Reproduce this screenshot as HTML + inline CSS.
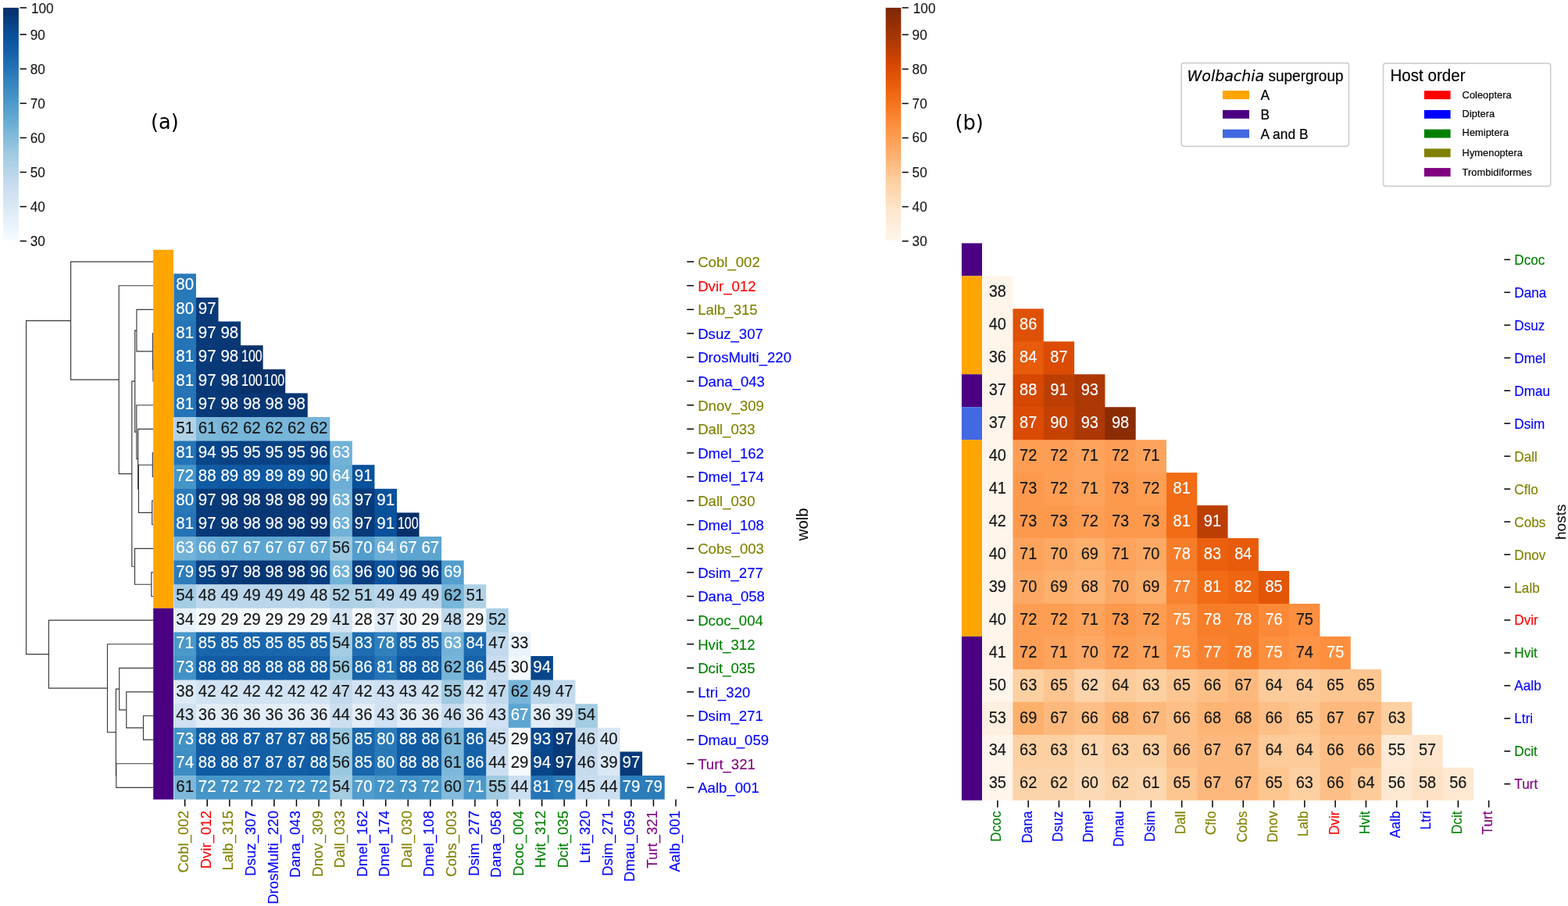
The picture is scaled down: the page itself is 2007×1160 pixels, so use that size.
<!DOCTYPE html>
<html lang="en">
<head>
<meta charset="utf-8">
<title>Wolbachia and host similarity heatmaps</title>
<style>
html,body{margin:0;padding:0;background:#fff;}
body{width:2007px;height:1160px;overflow:hidden;font-family:"Liberation Sans", sans-serif;}
svg{display:block;}
text{white-space:pre;}
</style>
</head>
<body>
<svg width="2007" height="1160" viewBox="0 0 2007 1160" role="img" aria-label="Clustered similarity heatmaps of Wolbachia strains and their hosts">
<rect x="0" y="0" width="2007" height="1160" fill="#ffffff"/>
<g id="gA">
<rect x="4.05" y="9.9" width="19.85" height="0.1" fill="#08306b"/>
<rect x="4.05" y="10" width="19.85" height="2" fill="#08306b"/>
<rect x="4.05" y="12" width="19.85" height="2" fill="#08326e"/>
<rect x="4.05" y="14" width="19.85" height="2" fill="#083471"/>
<rect x="4.05" y="16" width="19.85" height="2" fill="#083674"/>
<rect x="4.05" y="18" width="19.85" height="2" fill="#083776"/>
<rect x="4.05" y="20" width="19.85" height="2" fill="#083979"/>
<rect x="4.05" y="22" width="19.85" height="2" fill="#083b7c"/>
<rect x="4.05" y="24" width="19.85" height="2" fill="#083c7d"/>
<rect x="4.05" y="26" width="19.85" height="2" fill="#083e81"/>
<rect x="4.05" y="28" width="19.85" height="2" fill="#084184"/>
<rect x="4.05" y="30" width="19.85" height="2" fill="#084387"/>
<rect x="4.05" y="32" width="19.85" height="2" fill="#084488"/>
<rect x="4.05" y="34" width="19.85" height="2" fill="#08468b"/>
<rect x="4.05" y="36" width="19.85" height="2" fill="#08488e"/>
<rect x="4.05" y="38" width="19.85" height="2" fill="#084a91"/>
<rect x="4.05" y="40" width="19.85" height="2" fill="#084b93"/>
<rect x="4.05" y="42" width="19.85" height="2" fill="#084d96"/>
<rect x="4.05" y="44" width="19.85" height="2" fill="#084f99"/>
<rect x="4.05" y="46" width="19.85" height="2" fill="#08509b"/>
<rect x="4.05" y="48" width="19.85" height="2" fill="#09529d"/>
<rect x="4.05" y="50" width="19.85" height="2" fill="#0a549e"/>
<rect x="4.05" y="52" width="19.85" height="2" fill="#0c56a0"/>
<rect x="4.05" y="54" width="19.85" height="2" fill="#0d57a1"/>
<rect x="4.05" y="56" width="19.85" height="2" fill="#0e59a2"/>
<rect x="4.05" y="58" width="19.85" height="2" fill="#105ba4"/>
<rect x="4.05" y="60" width="19.85" height="2" fill="#115ca5"/>
<rect x="4.05" y="62" width="19.85" height="2" fill="#125ea6"/>
<rect x="4.05" y="64" width="19.85" height="2" fill="#1460a8"/>
<rect x="4.05" y="66" width="19.85" height="2" fill="#1562a9"/>
<rect x="4.05" y="68" width="19.85" height="2" fill="#1663aa"/>
<rect x="4.05" y="70" width="19.85" height="2" fill="#1865ac"/>
<rect x="4.05" y="72" width="19.85" height="2" fill="#1967ad"/>
<rect x="4.05" y="74" width="19.85" height="2" fill="#1a68ae"/>
<rect x="4.05" y="76" width="19.85" height="2" fill="#1c6ab0"/>
<rect x="4.05" y="78" width="19.85" height="2" fill="#1d6cb1"/>
<rect x="4.05" y="80" width="19.85" height="2" fill="#1f6eb3"/>
<rect x="4.05" y="82" width="19.85" height="2" fill="#206fb4"/>
<rect x="4.05" y="84" width="19.85" height="2" fill="#2171b5"/>
<rect x="4.05" y="86" width="19.85" height="2" fill="#2373b6"/>
<rect x="4.05" y="88" width="19.85" height="2" fill="#2474b7"/>
<rect x="4.05" y="90" width="19.85" height="2" fill="#2676b8"/>
<rect x="4.05" y="92" width="19.85" height="2" fill="#2979b9"/>
<rect x="4.05" y="94" width="19.85" height="2" fill="#2b7bba"/>
<rect x="4.05" y="96" width="19.85" height="2" fill="#2c7cba"/>
<rect x="4.05" y="98" width="19.85" height="2" fill="#2e7ebc"/>
<rect x="4.05" y="100" width="19.85" height="2" fill="#3080bd"/>
<rect x="4.05" y="102" width="19.85" height="2" fill="#3282be"/>
<rect x="4.05" y="104" width="19.85" height="2" fill="#3383be"/>
<rect x="4.05" y="106" width="19.85" height="2" fill="#3585bf"/>
<rect x="4.05" y="108" width="19.85" height="2" fill="#3787c0"/>
<rect x="4.05" y="110" width="19.85" height="2" fill="#3888c1"/>
<rect x="4.05" y="112" width="19.85" height="2" fill="#3a8ac2"/>
<rect x="4.05" y="114" width="19.85" height="2" fill="#3c8cc3"/>
<rect x="4.05" y="116" width="19.85" height="2" fill="#3e8ec4"/>
<rect x="4.05" y="118" width="19.85" height="2" fill="#3f8fc5"/>
<rect x="4.05" y="120" width="19.85" height="2" fill="#4191c6"/>
<rect x="4.05" y="122" width="19.85" height="2" fill="#4493c7"/>
<rect x="4.05" y="124" width="19.85" height="2" fill="#4594c7"/>
<rect x="4.05" y="126" width="19.85" height="2" fill="#4896c8"/>
<rect x="4.05" y="128" width="19.85" height="2" fill="#4a98c9"/>
<rect x="4.05" y="130" width="19.85" height="2" fill="#4d99ca"/>
<rect x="4.05" y="132" width="19.85" height="2" fill="#4e9acb"/>
<rect x="4.05" y="134" width="19.85" height="2" fill="#519ccc"/>
<rect x="4.05" y="136" width="19.85" height="2" fill="#539ecd"/>
<rect x="4.05" y="138" width="19.85" height="2" fill="#549fcd"/>
<rect x="4.05" y="140" width="19.85" height="2" fill="#57a0ce"/>
<rect x="4.05" y="142" width="19.85" height="2" fill="#5aa2cf"/>
<rect x="4.05" y="144" width="19.85" height="2" fill="#5ca4d0"/>
<rect x="4.05" y="146" width="19.85" height="2" fill="#5da5d1"/>
<rect x="4.05" y="148" width="19.85" height="2" fill="#60a7d2"/>
<rect x="4.05" y="150" width="19.85" height="2" fill="#63a8d3"/>
<rect x="4.05" y="152" width="19.85" height="2" fill="#65aad4"/>
<rect x="4.05" y="154" width="19.85" height="2" fill="#66abd4"/>
<rect x="4.05" y="156" width="19.85" height="2" fill="#69add5"/>
<rect x="4.05" y="158" width="19.85" height="2" fill="#6caed6"/>
<rect x="4.05" y="160" width="19.85" height="2" fill="#6dafd7"/>
<rect x="4.05" y="162" width="19.85" height="2" fill="#71b1d7"/>
<rect x="4.05" y="164" width="19.85" height="2" fill="#74b3d8"/>
<rect x="4.05" y="166" width="19.85" height="2" fill="#77b5d9"/>
<rect x="4.05" y="168" width="19.85" height="2" fill="#79b5d9"/>
<rect x="4.05" y="170" width="19.85" height="2" fill="#7cb7da"/>
<rect x="4.05" y="172" width="19.85" height="2" fill="#7fb9da"/>
<rect x="4.05" y="174" width="19.85" height="2" fill="#81badb"/>
<rect x="4.05" y="176" width="19.85" height="2" fill="#84bcdb"/>
<rect x="4.05" y="178" width="19.85" height="2" fill="#87bddc"/>
<rect x="4.05" y="180" width="19.85" height="2" fill="#8abfdd"/>
<rect x="4.05" y="182" width="19.85" height="2" fill="#8cc0dd"/>
<rect x="4.05" y="184" width="19.85" height="2" fill="#8fc2de"/>
<rect x="4.05" y="186" width="19.85" height="2" fill="#92c4de"/>
<rect x="4.05" y="188" width="19.85" height="2" fill="#94c4df"/>
<rect x="4.05" y="190" width="19.85" height="2" fill="#97c6df"/>
<rect x="4.05" y="192" width="19.85" height="2" fill="#9ac8e0"/>
<rect x="4.05" y="194" width="19.85" height="2" fill="#9dcae1"/>
<rect x="4.05" y="196" width="19.85" height="2" fill="#9fcae1"/>
<rect x="4.05" y="198" width="19.85" height="2" fill="#a1cbe2"/>
<rect x="4.05" y="200" width="19.85" height="2" fill="#a4cce3"/>
<rect x="4.05" y="202" width="19.85" height="2" fill="#a5cde3"/>
<rect x="4.05" y="204" width="19.85" height="2" fill="#a8cee4"/>
<rect x="4.05" y="206" width="19.85" height="2" fill="#aacfe5"/>
<rect x="4.05" y="208" width="19.85" height="2" fill="#add0e6"/>
<rect x="4.05" y="210" width="19.85" height="2" fill="#aed1e7"/>
<rect x="4.05" y="212" width="19.85" height="2" fill="#b0d2e7"/>
<rect x="4.05" y="214" width="19.85" height="2" fill="#b3d3e8"/>
<rect x="4.05" y="216" width="19.85" height="2" fill="#b5d4e9"/>
<rect x="4.05" y="218" width="19.85" height="2" fill="#b7d4ea"/>
<rect x="4.05" y="220" width="19.85" height="2" fill="#b9d6ea"/>
<rect x="4.05" y="222" width="19.85" height="2" fill="#bcd7eb"/>
<rect x="4.05" y="224" width="19.85" height="2" fill="#bdd7ec"/>
<rect x="4.05" y="226" width="19.85" height="2" fill="#bfd8ed"/>
<rect x="4.05" y="228" width="19.85" height="2" fill="#c2d9ee"/>
<rect x="4.05" y="230" width="19.85" height="2" fill="#c4daee"/>
<rect x="4.05" y="232" width="19.85" height="2" fill="#c6dbef"/>
<rect x="4.05" y="234" width="19.85" height="2" fill="#c7dcef"/>
<rect x="4.05" y="236" width="19.85" height="2" fill="#c9ddf0"/>
<rect x="4.05" y="238" width="19.85" height="2" fill="#caddf0"/>
<rect x="4.05" y="240" width="19.85" height="2" fill="#cbdef1"/>
<rect x="4.05" y="242" width="19.85" height="2" fill="#cddff1"/>
<rect x="4.05" y="244" width="19.85" height="2" fill="#cee0f2"/>
<rect x="4.05" y="246" width="19.85" height="2" fill="#cfe1f2"/>
<rect x="4.05" y="248" width="19.85" height="2" fill="#d0e2f2"/>
<rect x="4.05" y="250" width="19.85" height="2" fill="#d2e3f3"/>
<rect x="4.05" y="252" width="19.85" height="2" fill="#d3e3f3"/>
<rect x="4.05" y="254" width="19.85" height="2" fill="#d4e4f4"/>
<rect x="4.05" y="256" width="19.85" height="2" fill="#d6e5f4"/>
<rect x="4.05" y="258" width="19.85" height="2" fill="#d7e6f5"/>
<rect x="4.05" y="260" width="19.85" height="2" fill="#d8e7f5"/>
<rect x="4.05" y="262" width="19.85" height="2" fill="#d9e8f5"/>
<rect x="4.05" y="264" width="19.85" height="2" fill="#dbe9f6"/>
<rect x="4.05" y="266" width="19.85" height="2" fill="#dceaf6"/>
<rect x="4.05" y="268" width="19.85" height="2" fill="#ddeaf7"/>
<rect x="4.05" y="270" width="19.85" height="2" fill="#dfebf7"/>
<rect x="4.05" y="272" width="19.85" height="2" fill="#e0ecf8"/>
<rect x="4.05" y="274" width="19.85" height="2" fill="#e1edf8"/>
<rect x="4.05" y="276" width="19.85" height="2" fill="#e3eef8"/>
<rect x="4.05" y="278" width="19.85" height="2" fill="#e4eff9"/>
<rect x="4.05" y="280" width="19.85" height="2" fill="#e6f0f9"/>
<rect x="4.05" y="282" width="19.85" height="2" fill="#e7f0fa"/>
<rect x="4.05" y="284" width="19.85" height="2" fill="#e8f1fa"/>
<rect x="4.05" y="286" width="19.85" height="2" fill="#eaf2fb"/>
<rect x="4.05" y="288" width="19.85" height="2" fill="#eaf3fb"/>
<rect x="4.05" y="290" width="19.85" height="2" fill="#ecf4fb"/>
<rect x="4.05" y="292" width="19.85" height="2" fill="#eef5fc"/>
<rect x="4.05" y="294" width="19.85" height="2" fill="#eff6fc"/>
<rect x="4.05" y="296" width="19.85" height="2" fill="#f0f6fd"/>
<rect x="4.05" y="298" width="19.85" height="2" fill="#f2f7fd"/>
<rect x="4.05" y="300" width="19.85" height="2" fill="#f3f8fe"/>
<rect x="4.05" y="302" width="19.85" height="2" fill="#f4f9fe"/>
<rect x="4.05" y="304" width="19.85" height="2" fill="#f5fafe"/>
<rect x="4.05" y="306" width="19.85" height="1" fill="#f6faff"/>
<rect x="4.05" y="307" width="19.85" height="0.7" fill="#f7fbff"/>
</g>
<g stroke="#000" stroke-width="1.5">
<line x1="25.6" y1="9.9" x2="33.9" y2="9.9"/>
<line x1="25.6" y1="44.2" x2="33.9" y2="44.2"/>
<line x1="25.6" y1="88.27" x2="33.9" y2="88.27"/>
<line x1="25.6" y1="132.34" x2="33.9" y2="132.34"/>
<line x1="25.6" y1="176.41" x2="33.9" y2="176.41"/>
<line x1="25.6" y1="220.48" x2="33.9" y2="220.48"/>
<line x1="25.6" y1="264.55" x2="33.9" y2="264.55"/>
<line x1="25.6" y1="308.62" x2="33.9" y2="308.62"/>
</g>
<g font-family='"Liberation Sans", sans-serif' font-size="17.2" fill="#161616" stroke="#161616" stroke-width="0.12">
<text transform="translate(39.9 16.55) scale(1 1.04)">100</text>
<text transform="translate(38.7 50.85) scale(1 1.04)">90</text>
<text transform="translate(38.7 94.92) scale(1 1.04)">80</text>
<text transform="translate(38.7 138.99) scale(1 1.04)">70</text>
<text transform="translate(38.7 183.06) scale(1 1.04)">60</text>
<text transform="translate(38.7 227.13) scale(1 1.04)">50</text>
<text transform="translate(38.7 271.2) scale(1 1.04)">40</text>
<text transform="translate(38.7 315.27) scale(1 1.04)">30</text>
</g>
<g id="gB">
<rect x="1133.7" y="9.9" width="19.6" height="0.1" fill="#7f2704"/>
<rect x="1133.7" y="10" width="19.6" height="2" fill="#7f2704"/>
<rect x="1133.7" y="12" width="19.6" height="2" fill="#812804"/>
<rect x="1133.7" y="14" width="19.6" height="2" fill="#842904"/>
<rect x="1133.7" y="16" width="19.6" height="2" fill="#862a04"/>
<rect x="1133.7" y="18" width="19.6" height="2" fill="#882a04"/>
<rect x="1133.7" y="20" width="19.6" height="2" fill="#8a2b04"/>
<rect x="1133.7" y="22" width="19.6" height="2" fill="#8c2c04"/>
<rect x="1133.7" y="24" width="19.6" height="2" fill="#8e2d04"/>
<rect x="1133.7" y="26" width="19.6" height="2" fill="#902e04"/>
<rect x="1133.7" y="28" width="19.6" height="2" fill="#932f03"/>
<rect x="1133.7" y="30" width="19.6" height="2" fill="#952f03"/>
<rect x="1133.7" y="32" width="19.6" height="2" fill="#963003"/>
<rect x="1133.7" y="34" width="19.6" height="2" fill="#993103"/>
<rect x="1133.7" y="36" width="19.6" height="2" fill="#9b3203"/>
<rect x="1133.7" y="38" width="19.6" height="2" fill="#9e3303"/>
<rect x="1133.7" y="40" width="19.6" height="2" fill="#9f3303"/>
<rect x="1133.7" y="42" width="19.6" height="2" fill="#a13403"/>
<rect x="1133.7" y="44" width="19.6" height="2" fill="#a43503"/>
<rect x="1133.7" y="46" width="19.6" height="2" fill="#a53603"/>
<rect x="1133.7" y="48" width="19.6" height="2" fill="#a83703"/>
<rect x="1133.7" y="50" width="19.6" height="2" fill="#ab3803"/>
<rect x="1133.7" y="52" width="19.6" height="2" fill="#ae3903"/>
<rect x="1133.7" y="54" width="19.6" height="2" fill="#b03903"/>
<rect x="1133.7" y="56" width="19.6" height="2" fill="#b33b02"/>
<rect x="1133.7" y="58" width="19.6" height="2" fill="#b63c02"/>
<rect x="1133.7" y="60" width="19.6" height="2" fill="#b83c02"/>
<rect x="1133.7" y="62" width="19.6" height="2" fill="#bb3d02"/>
<rect x="1133.7" y="64" width="19.6" height="2" fill="#be3f02"/>
<rect x="1133.7" y="66" width="19.6" height="2" fill="#c14002"/>
<rect x="1133.7" y="68" width="19.6" height="2" fill="#c34002"/>
<rect x="1133.7" y="70" width="19.6" height="2" fill="#c64102"/>
<rect x="1133.7" y="72" width="19.6" height="2" fill="#c94202"/>
<rect x="1133.7" y="74" width="19.6" height="2" fill="#cb4302"/>
<rect x="1133.7" y="76" width="19.6" height="2" fill="#ce4401"/>
<rect x="1133.7" y="78" width="19.6" height="2" fill="#d14501"/>
<rect x="1133.7" y="80" width="19.6" height="2" fill="#d54601"/>
<rect x="1133.7" y="82" width="19.6" height="2" fill="#d64701"/>
<rect x="1133.7" y="84" width="19.6" height="2" fill="#d94801"/>
<rect x="1133.7" y="86" width="19.6" height="2" fill="#db4a02"/>
<rect x="1133.7" y="88" width="19.6" height="2" fill="#db4b03"/>
<rect x="1133.7" y="90" width="19.6" height="2" fill="#dd4d04"/>
<rect x="1133.7" y="92" width="19.6" height="2" fill="#de5005"/>
<rect x="1133.7" y="94" width="19.6" height="2" fill="#e05206"/>
<rect x="1133.7" y="96" width="19.6" height="2" fill="#e15307"/>
<rect x="1133.7" y="98" width="19.6" height="2" fill="#e25508"/>
<rect x="1133.7" y="100" width="19.6" height="2" fill="#e45709"/>
<rect x="1133.7" y="102" width="19.6" height="2" fill="#e5590a"/>
<rect x="1133.7" y="104" width="19.6" height="2" fill="#e65a0b"/>
<rect x="1133.7" y="106" width="19.6" height="2" fill="#e75c0c"/>
<rect x="1133.7" y="108" width="19.6" height="2" fill="#e95e0d"/>
<rect x="1133.7" y="110" width="19.6" height="2" fill="#ea5f0e"/>
<rect x="1133.7" y="112" width="19.6" height="2" fill="#eb610f"/>
<rect x="1133.7" y="114" width="19.6" height="2" fill="#ed6310"/>
<rect x="1133.7" y="116" width="19.6" height="2" fill="#ee6511"/>
<rect x="1133.7" y="118" width="19.6" height="2" fill="#ef6612"/>
<rect x="1133.7" y="120" width="19.6" height="2" fill="#f16813"/>
<rect x="1133.7" y="122" width="19.6" height="2" fill="#f26b15"/>
<rect x="1133.7" y="124" width="19.6" height="2" fill="#f26c16"/>
<rect x="1133.7" y="126" width="19.6" height="2" fill="#f36e19"/>
<rect x="1133.7" y="128" width="19.6" height="2" fill="#f3701b"/>
<rect x="1133.7" y="130" width="19.6" height="2" fill="#f4721e"/>
<rect x="1133.7" y="132" width="19.6" height="2" fill="#f5741f"/>
<rect x="1133.7" y="134" width="19.6" height="2" fill="#f57622"/>
<rect x="1133.7" y="136" width="19.6" height="2" fill="#f67824"/>
<rect x="1133.7" y="138" width="19.6" height="2" fill="#f67925"/>
<rect x="1133.7" y="140" width="19.6" height="2" fill="#f77b28"/>
<rect x="1133.7" y="142" width="19.6" height="2" fill="#f87e2b"/>
<rect x="1133.7" y="144" width="19.6" height="2" fill="#f9802d"/>
<rect x="1133.7" y="146" width="19.6" height="2" fill="#f9812e"/>
<rect x="1133.7" y="148" width="19.6" height="2" fill="#fa8331"/>
<rect x="1133.7" y="150" width="19.6" height="2" fill="#fb8634"/>
<rect x="1133.7" y="152" width="19.6" height="2" fill="#fb8836"/>
<rect x="1133.7" y="154" width="19.6" height="2" fill="#fc8937"/>
<rect x="1133.7" y="156" width="19.6" height="2" fill="#fc8b3a"/>
<rect x="1133.7" y="158" width="19.6" height="2" fill="#fd8e3d"/>
<rect x="1133.7" y="160" width="19.6" height="2" fill="#fd8f3e"/>
<rect x="1133.7" y="162" width="19.6" height="2" fill="#fd9141"/>
<rect x="1133.7" y="164" width="19.6" height="2" fill="#fd9344"/>
<rect x="1133.7" y="166" width="19.6" height="2" fill="#fd9547"/>
<rect x="1133.7" y="168" width="19.6" height="2" fill="#fd9649"/>
<rect x="1133.7" y="170" width="19.6" height="2" fill="#fd984b"/>
<rect x="1133.7" y="172" width="19.6" height="2" fill="#fd9a4e"/>
<rect x="1133.7" y="174" width="19.6" height="2" fill="#fd9b50"/>
<rect x="1133.7" y="176" width="19.6" height="2" fill="#fd9d53"/>
<rect x="1133.7" y="178" width="19.6" height="2" fill="#fd9f56"/>
<rect x="1133.7" y="180" width="19.6" height="2" fill="#fda159"/>
<rect x="1133.7" y="182" width="19.6" height="2" fill="#fda25a"/>
<rect x="1133.7" y="184" width="19.6" height="2" fill="#fda45d"/>
<rect x="1133.7" y="186" width="19.6" height="2" fill="#fda660"/>
<rect x="1133.7" y="188" width="19.6" height="2" fill="#fda762"/>
<rect x="1133.7" y="190" width="19.6" height="2" fill="#fda965"/>
<rect x="1133.7" y="192" width="19.6" height="2" fill="#fdac67"/>
<rect x="1133.7" y="194" width="19.6" height="2" fill="#fdae6a"/>
<rect x="1133.7" y="196" width="19.6" height="2" fill="#fdaf6c"/>
<rect x="1133.7" y="198" width="19.6" height="2" fill="#fdb170"/>
<rect x="1133.7" y="200" width="19.6" height="2" fill="#fdb373"/>
<rect x="1133.7" y="202" width="19.6" height="2" fill="#fdb475"/>
<rect x="1133.7" y="204" width="19.6" height="2" fill="#fdb678"/>
<rect x="1133.7" y="206" width="19.6" height="2" fill="#fdb87c"/>
<rect x="1133.7" y="208" width="19.6" height="2" fill="#fdba7f"/>
<rect x="1133.7" y="210" width="19.6" height="2" fill="#fdbb81"/>
<rect x="1133.7" y="212" width="19.6" height="2" fill="#fdbe84"/>
<rect x="1133.7" y="214" width="19.6" height="2" fill="#fdc088"/>
<rect x="1133.7" y="216" width="19.6" height="2" fill="#fdc28b"/>
<rect x="1133.7" y="218" width="19.6" height="2" fill="#fdc38d"/>
<rect x="1133.7" y="220" width="19.6" height="2" fill="#fdc590"/>
<rect x="1133.7" y="222" width="19.6" height="2" fill="#fdc794"/>
<rect x="1133.7" y="224" width="19.6" height="2" fill="#fdc895"/>
<rect x="1133.7" y="226" width="19.6" height="2" fill="#fdca99"/>
<rect x="1133.7" y="228" width="19.6" height="2" fill="#fdcd9c"/>
<rect x="1133.7" y="230" width="19.6" height="2" fill="#fdcfa0"/>
<rect x="1133.7" y="232" width="19.6" height="2" fill="#fdd0a2"/>
<rect x="1133.7" y="234" width="19.6" height="2" fill="#fdd1a4"/>
<rect x="1133.7" y="236" width="19.6" height="2" fill="#fdd3a7"/>
<rect x="1133.7" y="238" width="19.6" height="2" fill="#fdd3a9"/>
<rect x="1133.7" y="240" width="19.6" height="2" fill="#fdd5ab"/>
<rect x="1133.7" y="242" width="19.6" height="2" fill="#fdd6ae"/>
<rect x="1133.7" y="244" width="19.6" height="2" fill="#fdd7b1"/>
<rect x="1133.7" y="246" width="19.6" height="2" fill="#fdd8b2"/>
<rect x="1133.7" y="248" width="19.6" height="2" fill="#fdd9b5"/>
<rect x="1133.7" y="250" width="19.6" height="2" fill="#fddbb8"/>
<rect x="1133.7" y="252" width="19.6" height="2" fill="#fedcb9"/>
<rect x="1133.7" y="254" width="19.6" height="2" fill="#feddbc"/>
<rect x="1133.7" y="256" width="19.6" height="2" fill="#fedebf"/>
<rect x="1133.7" y="258" width="19.6" height="2" fill="#fee0c1"/>
<rect x="1133.7" y="260" width="19.6" height="2" fill="#fee0c3"/>
<rect x="1133.7" y="262" width="19.6" height="2" fill="#fee2c6"/>
<rect x="1133.7" y="264" width="19.6" height="2" fill="#fee3c8"/>
<rect x="1133.7" y="266" width="19.6" height="2" fill="#fee5cb"/>
<rect x="1133.7" y="268" width="19.6" height="2" fill="#fee5cc"/>
<rect x="1133.7" y="270" width="19.6" height="2" fill="#fee6cf"/>
<rect x="1133.7" y="272" width="19.6" height="2" fill="#fee7d1"/>
<rect x="1133.7" y="274" width="19.6" height="2" fill="#fee8d2"/>
<rect x="1133.7" y="276" width="19.6" height="2" fill="#fee9d3"/>
<rect x="1133.7" y="278" width="19.6" height="2" fill="#feead5"/>
<rect x="1133.7" y="280" width="19.6" height="2" fill="#feebd7"/>
<rect x="1133.7" y="282" width="19.6" height="2" fill="#feebd8"/>
<rect x="1133.7" y="284" width="19.6" height="2" fill="#feecda"/>
<rect x="1133.7" y="286" width="19.6" height="2" fill="#feeddc"/>
<rect x="1133.7" y="288" width="19.6" height="2" fill="#feeddc"/>
<rect x="1133.7" y="290" width="19.6" height="2" fill="#ffeede"/>
<rect x="1133.7" y="292" width="19.6" height="2" fill="#ffefe0"/>
<rect x="1133.7" y="294" width="19.6" height="2" fill="#fff0e2"/>
<rect x="1133.7" y="296" width="19.6" height="2" fill="#fff1e3"/>
<rect x="1133.7" y="298" width="19.6" height="2" fill="#fff2e5"/>
<rect x="1133.7" y="300" width="19.6" height="2" fill="#fff3e6"/>
<rect x="1133.7" y="302" width="19.6" height="2" fill="#fff3e7"/>
<rect x="1133.7" y="304" width="19.6" height="2" fill="#fff4e9"/>
<rect x="1133.7" y="306" width="19.6" height="1" fill="#fff5ea"/>
<rect x="1133.7" y="307" width="19.6" height="0.7" fill="#fff5eb"/>
</g>
<g stroke="#000" stroke-width="1.5">
<line x1="1154.7" y1="9.9" x2="1162.8" y2="9.9"/>
<line x1="1154.7" y1="44.4" x2="1162.8" y2="44.4"/>
<line x1="1154.7" y1="88.45" x2="1162.8" y2="88.45"/>
<line x1="1154.7" y1="132.5" x2="1162.8" y2="132.5"/>
<line x1="1154.7" y1="176.55" x2="1162.8" y2="176.55"/>
<line x1="1154.7" y1="220.6" x2="1162.8" y2="220.6"/>
<line x1="1154.7" y1="264.65" x2="1162.8" y2="264.65"/>
<line x1="1154.7" y1="308.7" x2="1162.8" y2="308.7"/>
</g>
<g font-family='"Liberation Sans", sans-serif' font-size="17.2" fill="#161616" stroke="#161616" stroke-width="0.12">
<text transform="translate(1168.8 16.55) scale(1 1.04)">100</text>
<text transform="translate(1167.6 50.85) scale(1 1.04)">90</text>
<text transform="translate(1167.6 94.9) scale(1 1.04)">80</text>
<text transform="translate(1167.6 139.15) scale(1 1.04)">70</text>
<text transform="translate(1167.6 181.6) scale(1 1.04)">60</text>
<text transform="translate(1167.6 227.25) scale(1 1.04)">50</text>
<text transform="translate(1167.6 271.3) scale(1 1.04)">40</text>
<text transform="translate(1167.6 315.35) scale(1 1.04)">30</text>
</g>
<text x="210.8" y="164.7" font-size="25.7" fill="#000" text-anchor="middle" font-family='"DejaVu Sans", sans-serif'>(a)</text>
<text x="1240.7" y="166.4" font-size="25.7" fill="#000" text-anchor="middle" font-family='"DejaVu Sans", sans-serif'>(b)</text>
<path d="M196.2 457.5H196V488.1H196.2M196.2 426.9H195.5V472.8H196M196.2 396.3H174.9V449.85H195.5M196.2 579.9H195.3V610.5H196.2M196.2 641.1H194.7V671.7H196.2M195.3 595.2H177.4V656.4H194.7M196.2 549.3H176.6V625.8H177.4M196.2 518.7H174.8V587.55H176.6M174.9 423.08H172.7V553.12H174.8M196.2 732.9H193.8V763.5H196.2M196.2 702.3H172.5V748.2H193.8M172.7 488.1H168.8V725.25H172.5M196.2 365.7H152.2V606.67H168.8M196.2 335.1H90.6V486.19H152.2M196.2 916.5H183.5V947.1H196.2M196.2 885.9H161.8V931.8H183.5M196.2 855.3H152.7V908.85H161.8M196.2 977.7H148.8V1008.3H196.2M152.7 882.08H148.4V993H148.8M196.2 824.7H137.5V937.54H148.4M196.2 794.1H62.4V881.12H137.5M90.6 410.64H33.5V837.61H62.4" fill="none" stroke="#3a3a3a" stroke-width="1.15" stroke-linejoin="miter"/>
<rect x="196.2" y="319.8" width="25.8" height="459" fill="#ffa500"/>
<rect x="196.2" y="778.8" width="25.8" height="244.8" fill="#4b0082"/>
<g>
<rect x="222.4" y="350.4" width="28.56" height="31.3" fill="#2979b9"/>
<rect x="222.4" y="381" width="29.26" height="31.3" fill="#2979b9"/>
<rect x="250.96" y="381" width="28.56" height="31.3" fill="#083a7a"/>
<rect x="222.4" y="411.6" width="29.26" height="31.3" fill="#2474b7"/>
<rect x="250.96" y="411.6" width="29.26" height="31.3" fill="#083a7a"/>
<rect x="279.52" y="411.6" width="28.56" height="31.3" fill="#083776"/>
<rect x="222.4" y="442.2" width="29.26" height="31.3" fill="#2474b7"/>
<rect x="250.96" y="442.2" width="29.26" height="31.3" fill="#083a7a"/>
<rect x="279.52" y="442.2" width="29.26" height="31.3" fill="#083776"/>
<rect x="308.08" y="442.2" width="28.56" height="31.3" fill="#08306b"/>
<rect x="222.4" y="472.8" width="29.26" height="31.3" fill="#2474b7"/>
<rect x="250.96" y="472.8" width="29.26" height="31.3" fill="#083a7a"/>
<rect x="279.52" y="472.8" width="29.26" height="31.3" fill="#083776"/>
<rect x="308.08" y="472.8" width="29.26" height="31.3" fill="#08306b"/>
<rect x="336.64" y="472.8" width="28.56" height="31.3" fill="#08306b"/>
<rect x="222.4" y="503.4" width="29.26" height="31.3" fill="#2474b7"/>
<rect x="250.96" y="503.4" width="29.26" height="31.3" fill="#083a7a"/>
<rect x="279.52" y="503.4" width="29.26" height="31.3" fill="#083776"/>
<rect x="308.08" y="503.4" width="29.26" height="31.3" fill="#083776"/>
<rect x="336.64" y="503.4" width="29.26" height="31.3" fill="#083776"/>
<rect x="365.2" y="503.4" width="28.56" height="31.3" fill="#083776"/>
<rect x="222.4" y="534" width="29.26" height="31.3" fill="#b0d2e7"/>
<rect x="250.96" y="534" width="29.26" height="31.3" fill="#7db8da"/>
<rect x="279.52" y="534" width="29.26" height="31.3" fill="#77b5d9"/>
<rect x="308.08" y="534" width="29.26" height="31.3" fill="#77b5d9"/>
<rect x="336.64" y="534" width="29.26" height="31.3" fill="#77b5d9"/>
<rect x="365.2" y="534" width="29.26" height="31.3" fill="#77b5d9"/>
<rect x="393.76" y="534" width="28.56" height="31.3" fill="#77b5d9"/>
<rect x="222.4" y="564.6" width="29.26" height="31.3" fill="#2474b7"/>
<rect x="250.96" y="564.6" width="29.26" height="31.3" fill="#08468b"/>
<rect x="279.52" y="564.6" width="29.26" height="31.3" fill="#084285"/>
<rect x="308.08" y="564.6" width="29.26" height="31.3" fill="#084285"/>
<rect x="336.64" y="564.6" width="29.26" height="31.3" fill="#084285"/>
<rect x="365.2" y="564.6" width="29.26" height="31.3" fill="#084285"/>
<rect x="393.76" y="564.6" width="29.26" height="31.3" fill="#083e81"/>
<rect x="422.32" y="564.6" width="28.56" height="31.3" fill="#72b2d8"/>
<rect x="222.4" y="595.2" width="29.26" height="31.3" fill="#4695c8"/>
<rect x="250.96" y="595.2" width="29.26" height="31.3" fill="#105ba4"/>
<rect x="279.52" y="595.2" width="29.26" height="31.3" fill="#0e58a2"/>
<rect x="308.08" y="595.2" width="29.26" height="31.3" fill="#0e58a2"/>
<rect x="336.64" y="595.2" width="29.26" height="31.3" fill="#0e58a2"/>
<rect x="365.2" y="595.2" width="29.26" height="31.3" fill="#0e58a2"/>
<rect x="393.76" y="595.2" width="29.26" height="31.3" fill="#0a549e"/>
<rect x="422.32" y="595.2" width="29.26" height="31.3" fill="#6caed6"/>
<rect x="450.88" y="595.2" width="28.56" height="31.3" fill="#08519c"/>
<rect x="222.4" y="625.8" width="29.26" height="31.3" fill="#2979b9"/>
<rect x="250.96" y="625.8" width="29.26" height="31.3" fill="#083a7a"/>
<rect x="279.52" y="625.8" width="29.26" height="31.3" fill="#083776"/>
<rect x="308.08" y="625.8" width="29.26" height="31.3" fill="#083776"/>
<rect x="336.64" y="625.8" width="29.26" height="31.3" fill="#083776"/>
<rect x="365.2" y="625.8" width="29.26" height="31.3" fill="#083776"/>
<rect x="393.76" y="625.8" width="29.26" height="31.3" fill="#083370"/>
<rect x="422.32" y="625.8" width="29.26" height="31.3" fill="#72b2d8"/>
<rect x="450.88" y="625.8" width="29.26" height="31.3" fill="#083a7a"/>
<rect x="479.44" y="625.8" width="28.56" height="31.3" fill="#08519c"/>
<rect x="222.4" y="656.4" width="29.26" height="31.3" fill="#2474b7"/>
<rect x="250.96" y="656.4" width="29.26" height="31.3" fill="#083a7a"/>
<rect x="279.52" y="656.4" width="29.26" height="31.3" fill="#083776"/>
<rect x="308.08" y="656.4" width="29.26" height="31.3" fill="#083776"/>
<rect x="336.64" y="656.4" width="29.26" height="31.3" fill="#083776"/>
<rect x="365.2" y="656.4" width="29.26" height="31.3" fill="#083776"/>
<rect x="393.76" y="656.4" width="29.26" height="31.3" fill="#083370"/>
<rect x="422.32" y="656.4" width="29.26" height="31.3" fill="#72b2d8"/>
<rect x="450.88" y="656.4" width="29.26" height="31.3" fill="#083a7a"/>
<rect x="479.44" y="656.4" width="29.26" height="31.3" fill="#08519c"/>
<rect x="508" y="656.4" width="28.56" height="31.3" fill="#08306b"/>
<rect x="222.4" y="687" width="29.26" height="31.3" fill="#72b2d8"/>
<rect x="250.96" y="687" width="29.26" height="31.3" fill="#63a8d3"/>
<rect x="279.52" y="687" width="29.26" height="31.3" fill="#5da5d1"/>
<rect x="308.08" y="687" width="29.26" height="31.3" fill="#5da5d1"/>
<rect x="336.64" y="687" width="29.26" height="31.3" fill="#5da5d1"/>
<rect x="365.2" y="687" width="29.26" height="31.3" fill="#5da5d1"/>
<rect x="393.76" y="687" width="29.26" height="31.3" fill="#5da5d1"/>
<rect x="422.32" y="687" width="29.26" height="31.3" fill="#9ac8e0"/>
<rect x="450.88" y="687" width="29.26" height="31.3" fill="#519ccc"/>
<rect x="479.44" y="687" width="29.26" height="31.3" fill="#6caed6"/>
<rect x="508" y="687" width="29.26" height="31.3" fill="#5da5d1"/>
<rect x="536.56" y="687" width="28.56" height="31.3" fill="#5da5d1"/>
<rect x="222.4" y="717.6" width="29.26" height="31.3" fill="#2c7cba"/>
<rect x="250.96" y="717.6" width="29.26" height="31.3" fill="#084285"/>
<rect x="279.52" y="717.6" width="29.26" height="31.3" fill="#083a7a"/>
<rect x="308.08" y="717.6" width="29.26" height="31.3" fill="#083776"/>
<rect x="336.64" y="717.6" width="29.26" height="31.3" fill="#083776"/>
<rect x="365.2" y="717.6" width="29.26" height="31.3" fill="#083776"/>
<rect x="393.76" y="717.6" width="29.26" height="31.3" fill="#083e81"/>
<rect x="422.32" y="717.6" width="29.26" height="31.3" fill="#72b2d8"/>
<rect x="450.88" y="717.6" width="29.26" height="31.3" fill="#083e81"/>
<rect x="479.44" y="717.6" width="29.26" height="31.3" fill="#0a549e"/>
<rect x="508" y="717.6" width="29.26" height="31.3" fill="#083e81"/>
<rect x="536.56" y="717.6" width="29.26" height="31.3" fill="#083e81"/>
<rect x="565.12" y="717.6" width="28.56" height="31.3" fill="#549fcd"/>
<rect x="222.4" y="748.2" width="29.26" height="31.3" fill="#a4cce3"/>
<rect x="250.96" y="748.2" width="29.26" height="31.3" fill="#bed8ec"/>
<rect x="279.52" y="748.2" width="29.26" height="31.3" fill="#bad6eb"/>
<rect x="308.08" y="748.2" width="29.26" height="31.3" fill="#bad6eb"/>
<rect x="336.64" y="748.2" width="29.26" height="31.3" fill="#bad6eb"/>
<rect x="365.2" y="748.2" width="29.26" height="31.3" fill="#bad6eb"/>
<rect x="393.76" y="748.2" width="29.26" height="31.3" fill="#bed8ec"/>
<rect x="422.32" y="748.2" width="29.26" height="31.3" fill="#add0e6"/>
<rect x="450.88" y="748.2" width="29.26" height="31.3" fill="#b0d2e7"/>
<rect x="479.44" y="748.2" width="29.26" height="31.3" fill="#bad6eb"/>
<rect x="508" y="748.2" width="29.26" height="31.3" fill="#bad6eb"/>
<rect x="536.56" y="748.2" width="29.26" height="31.3" fill="#bad6eb"/>
<rect x="565.12" y="748.2" width="29.26" height="31.3" fill="#77b5d9"/>
<rect x="593.68" y="748.2" width="28.56" height="31.3" fill="#b0d2e7"/>
<rect x="222.4" y="778.8" width="29.26" height="31.3" fill="#e7f1fa"/>
<rect x="250.96" y="778.8" width="29.26" height="31.3" fill="#f5fafe"/>
<rect x="279.52" y="778.8" width="29.26" height="31.3" fill="#f5fafe"/>
<rect x="308.08" y="778.8" width="29.26" height="31.3" fill="#f5fafe"/>
<rect x="336.64" y="778.8" width="29.26" height="31.3" fill="#f5fafe"/>
<rect x="365.2" y="778.8" width="29.26" height="31.3" fill="#f5fafe"/>
<rect x="393.76" y="778.8" width="29.26" height="31.3" fill="#f5fafe"/>
<rect x="422.32" y="778.8" width="29.26" height="31.3" fill="#d4e4f4"/>
<rect x="450.88" y="778.8" width="29.26" height="31.3" fill="#f7fbff"/>
<rect x="479.44" y="778.8" width="29.26" height="31.3" fill="#dfebf7"/>
<rect x="508" y="778.8" width="29.26" height="31.3" fill="#f2f8fd"/>
<rect x="536.56" y="778.8" width="29.26" height="31.3" fill="#f5fafe"/>
<rect x="565.12" y="778.8" width="29.26" height="31.3" fill="#bed8ec"/>
<rect x="593.68" y="778.8" width="29.26" height="31.3" fill="#f5fafe"/>
<rect x="622.24" y="778.8" width="28.56" height="31.3" fill="#add0e6"/>
<rect x="222.4" y="809.4" width="29.26" height="31.3" fill="#4b98ca"/>
<rect x="250.96" y="809.4" width="29.26" height="31.3" fill="#1966ad"/>
<rect x="279.52" y="809.4" width="29.26" height="31.3" fill="#1966ad"/>
<rect x="308.08" y="809.4" width="29.26" height="31.3" fill="#1966ad"/>
<rect x="336.64" y="809.4" width="29.26" height="31.3" fill="#1966ad"/>
<rect x="365.2" y="809.4" width="29.26" height="31.3" fill="#1966ad"/>
<rect x="393.76" y="809.4" width="29.26" height="31.3" fill="#1966ad"/>
<rect x="422.32" y="809.4" width="29.26" height="31.3" fill="#a4cce3"/>
<rect x="450.88" y="809.4" width="29.26" height="31.3" fill="#1e6db2"/>
<rect x="479.44" y="809.4" width="29.26" height="31.3" fill="#3080bd"/>
<rect x="508" y="809.4" width="29.26" height="31.3" fill="#1966ad"/>
<rect x="536.56" y="809.4" width="29.26" height="31.3" fill="#1966ad"/>
<rect x="565.12" y="809.4" width="29.26" height="31.3" fill="#72b2d8"/>
<rect x="593.68" y="809.4" width="29.26" height="31.3" fill="#1c6ab0"/>
<rect x="622.24" y="809.4" width="29.26" height="31.3" fill="#c3daee"/>
<rect x="650.8" y="809.4" width="28.56" height="31.3" fill="#eaf3fb"/>
<rect x="222.4" y="840" width="29.26" height="31.3" fill="#4292c6"/>
<rect x="250.96" y="840" width="29.26" height="31.3" fill="#105ba4"/>
<rect x="279.52" y="840" width="29.26" height="31.3" fill="#105ba4"/>
<rect x="308.08" y="840" width="29.26" height="31.3" fill="#105ba4"/>
<rect x="336.64" y="840" width="29.26" height="31.3" fill="#105ba4"/>
<rect x="365.2" y="840" width="29.26" height="31.3" fill="#105ba4"/>
<rect x="393.76" y="840" width="29.26" height="31.3" fill="#105ba4"/>
<rect x="422.32" y="840" width="29.26" height="31.3" fill="#9ac8e0"/>
<rect x="450.88" y="840" width="29.26" height="31.3" fill="#1562a9"/>
<rect x="479.44" y="840" width="29.26" height="31.3" fill="#2474b7"/>
<rect x="508" y="840" width="29.26" height="31.3" fill="#105ba4"/>
<rect x="536.56" y="840" width="29.26" height="31.3" fill="#105ba4"/>
<rect x="565.12" y="840" width="29.26" height="31.3" fill="#77b5d9"/>
<rect x="593.68" y="840" width="29.26" height="31.3" fill="#1562a9"/>
<rect x="622.24" y="840" width="29.26" height="31.3" fill="#caddf0"/>
<rect x="650.8" y="840" width="29.26" height="31.3" fill="#f2f8fd"/>
<rect x="679.36" y="840" width="28.56" height="31.3" fill="#08468b"/>
<rect x="222.4" y="870.6" width="29.26" height="31.3" fill="#dceaf6"/>
<rect x="250.96" y="870.6" width="29.26" height="31.3" fill="#d2e3f3"/>
<rect x="279.52" y="870.6" width="29.26" height="31.3" fill="#d2e3f3"/>
<rect x="308.08" y="870.6" width="29.26" height="31.3" fill="#d2e3f3"/>
<rect x="336.64" y="870.6" width="29.26" height="31.3" fill="#d2e3f3"/>
<rect x="365.2" y="870.6" width="29.26" height="31.3" fill="#d2e3f3"/>
<rect x="393.76" y="870.6" width="29.26" height="31.3" fill="#d2e3f3"/>
<rect x="422.32" y="870.6" width="29.26" height="31.3" fill="#c3daee"/>
<rect x="450.88" y="870.6" width="29.26" height="31.3" fill="#d2e3f3"/>
<rect x="479.44" y="870.6" width="29.26" height="31.3" fill="#cfe1f2"/>
<rect x="508" y="870.6" width="29.26" height="31.3" fill="#cfe1f2"/>
<rect x="536.56" y="870.6" width="29.26" height="31.3" fill="#d2e3f3"/>
<rect x="565.12" y="870.6" width="29.26" height="31.3" fill="#9fcae1"/>
<rect x="593.68" y="870.6" width="29.26" height="31.3" fill="#d2e3f3"/>
<rect x="622.24" y="870.6" width="29.26" height="31.3" fill="#c3daee"/>
<rect x="650.8" y="870.6" width="29.26" height="31.3" fill="#77b5d9"/>
<rect x="679.36" y="870.6" width="29.26" height="31.3" fill="#bad6eb"/>
<rect x="707.92" y="870.6" width="28.56" height="31.3" fill="#c3daee"/>
<rect x="222.4" y="901.2" width="29.26" height="31.3" fill="#cfe1f2"/>
<rect x="250.96" y="901.2" width="29.26" height="31.3" fill="#e2edf8"/>
<rect x="279.52" y="901.2" width="29.26" height="31.3" fill="#e2edf8"/>
<rect x="308.08" y="901.2" width="29.26" height="31.3" fill="#e2edf8"/>
<rect x="336.64" y="901.2" width="29.26" height="31.3" fill="#e2edf8"/>
<rect x="365.2" y="901.2" width="29.26" height="31.3" fill="#e2edf8"/>
<rect x="393.76" y="901.2" width="29.26" height="31.3" fill="#e2edf8"/>
<rect x="422.32" y="901.2" width="29.26" height="31.3" fill="#ccdff1"/>
<rect x="450.88" y="901.2" width="29.26" height="31.3" fill="#e2edf8"/>
<rect x="479.44" y="901.2" width="29.26" height="31.3" fill="#cfe1f2"/>
<rect x="508" y="901.2" width="29.26" height="31.3" fill="#e2edf8"/>
<rect x="536.56" y="901.2" width="29.26" height="31.3" fill="#e2edf8"/>
<rect x="565.12" y="901.2" width="29.26" height="31.3" fill="#c7dbef"/>
<rect x="593.68" y="901.2" width="29.26" height="31.3" fill="#e2edf8"/>
<rect x="622.24" y="901.2" width="29.26" height="31.3" fill="#cfe1f2"/>
<rect x="650.8" y="901.2" width="29.26" height="31.3" fill="#5da5d1"/>
<rect x="679.36" y="901.2" width="29.26" height="31.3" fill="#e2edf8"/>
<rect x="707.92" y="901.2" width="29.26" height="31.3" fill="#d9e8f5"/>
<rect x="736.48" y="901.2" width="28.56" height="31.3" fill="#a4cce3"/>
<rect x="222.4" y="931.8" width="29.26" height="31.3" fill="#4292c6"/>
<rect x="250.96" y="931.8" width="29.26" height="31.3" fill="#105ba4"/>
<rect x="279.52" y="931.8" width="29.26" height="31.3" fill="#105ba4"/>
<rect x="308.08" y="931.8" width="29.26" height="31.3" fill="#135fa7"/>
<rect x="336.64" y="931.8" width="29.26" height="31.3" fill="#135fa7"/>
<rect x="365.2" y="931.8" width="29.26" height="31.3" fill="#135fa7"/>
<rect x="393.76" y="931.8" width="29.26" height="31.3" fill="#105ba4"/>
<rect x="422.32" y="931.8" width="29.26" height="31.3" fill="#9ac8e0"/>
<rect x="450.88" y="931.8" width="29.26" height="31.3" fill="#1966ad"/>
<rect x="479.44" y="931.8" width="29.26" height="31.3" fill="#2979b9"/>
<rect x="508" y="931.8" width="29.26" height="31.3" fill="#105ba4"/>
<rect x="536.56" y="931.8" width="29.26" height="31.3" fill="#105ba4"/>
<rect x="565.12" y="931.8" width="29.26" height="31.3" fill="#7db8da"/>
<rect x="593.68" y="931.8" width="29.26" height="31.3" fill="#1562a9"/>
<rect x="622.24" y="931.8" width="29.26" height="31.3" fill="#caddf0"/>
<rect x="650.8" y="931.8" width="29.26" height="31.3" fill="#f5fafe"/>
<rect x="679.36" y="931.8" width="29.26" height="31.3" fill="#084990"/>
<rect x="707.92" y="931.8" width="29.26" height="31.3" fill="#083a7a"/>
<rect x="736.48" y="931.8" width="29.26" height="31.3" fill="#c7dbef"/>
<rect x="765.04" y="931.8" width="28.56" height="31.3" fill="#d7e6f5"/>
<rect x="222.4" y="962.4" width="29.26" height="31.3" fill="#3e8ec4"/>
<rect x="250.96" y="962.4" width="29.26" height="31.3" fill="#105ba4"/>
<rect x="279.52" y="962.4" width="29.26" height="31.3" fill="#105ba4"/>
<rect x="308.08" y="962.4" width="29.26" height="31.3" fill="#135fa7"/>
<rect x="336.64" y="962.4" width="29.26" height="31.3" fill="#135fa7"/>
<rect x="365.2" y="962.4" width="29.26" height="31.3" fill="#135fa7"/>
<rect x="393.76" y="962.4" width="29.26" height="31.3" fill="#105ba4"/>
<rect x="422.32" y="962.4" width="29.26" height="31.3" fill="#9ac8e0"/>
<rect x="450.88" y="962.4" width="29.26" height="31.3" fill="#1966ad"/>
<rect x="479.44" y="962.4" width="29.26" height="31.3" fill="#2979b9"/>
<rect x="508" y="962.4" width="29.26" height="31.3" fill="#105ba4"/>
<rect x="536.56" y="962.4" width="29.26" height="31.3" fill="#105ba4"/>
<rect x="565.12" y="962.4" width="29.26" height="31.3" fill="#7db8da"/>
<rect x="593.68" y="962.4" width="29.26" height="31.3" fill="#1562a9"/>
<rect x="622.24" y="962.4" width="29.26" height="31.3" fill="#ccdff1"/>
<rect x="650.8" y="962.4" width="29.26" height="31.3" fill="#f5fafe"/>
<rect x="679.36" y="962.4" width="29.26" height="31.3" fill="#08468b"/>
<rect x="707.92" y="962.4" width="29.26" height="31.3" fill="#083a7a"/>
<rect x="736.48" y="962.4" width="29.26" height="31.3" fill="#c7dbef"/>
<rect x="765.04" y="962.4" width="29.26" height="31.3" fill="#d9e8f5"/>
<rect x="793.6" y="962.4" width="28.56" height="31.3" fill="#083a7a"/>
<rect x="222.4" y="993" width="29.26" height="30.6" fill="#7db8da"/>
<rect x="250.96" y="993" width="29.26" height="30.6" fill="#4695c8"/>
<rect x="279.52" y="993" width="29.26" height="30.6" fill="#4695c8"/>
<rect x="308.08" y="993" width="29.26" height="30.6" fill="#4695c8"/>
<rect x="336.64" y="993" width="29.26" height="30.6" fill="#4695c8"/>
<rect x="365.2" y="993" width="29.26" height="30.6" fill="#4695c8"/>
<rect x="393.76" y="993" width="29.26" height="30.6" fill="#4695c8"/>
<rect x="422.32" y="993" width="29.26" height="30.6" fill="#a4cce3"/>
<rect x="450.88" y="993" width="29.26" height="30.6" fill="#519ccc"/>
<rect x="479.44" y="993" width="29.26" height="30.6" fill="#4695c8"/>
<rect x="508" y="993" width="29.26" height="30.6" fill="#4292c6"/>
<rect x="536.56" y="993" width="29.26" height="30.6" fill="#4695c8"/>
<rect x="565.12" y="993" width="29.26" height="30.6" fill="#82bbdb"/>
<rect x="593.68" y="993" width="29.26" height="30.6" fill="#4b98ca"/>
<rect x="622.24" y="993" width="29.26" height="30.6" fill="#9fcae1"/>
<rect x="650.8" y="993" width="29.26" height="30.6" fill="#ccdff1"/>
<rect x="679.36" y="993" width="29.26" height="30.6" fill="#2474b7"/>
<rect x="707.92" y="993" width="29.26" height="30.6" fill="#2c7cba"/>
<rect x="736.48" y="993" width="29.26" height="30.6" fill="#caddf0"/>
<rect x="765.04" y="993" width="29.26" height="30.6" fill="#ccdff1"/>
<rect x="793.6" y="993" width="29.26" height="30.6" fill="#2c7cba"/>
<rect x="822.16" y="993" width="28.56" height="30.6" fill="#2c7cba"/>
</g>
<g font-family='"Liberation Sans", sans-serif' font-size="20.5" text-anchor="middle" stroke-width="0.15" stroke-linejoin="round">
<text transform="translate(236.68 371.3) scale(1 1.035)" fill="#ffffff" stroke="#ffffff">80</text>
<text transform="translate(236.68 401.9) scale(1 1.035)" fill="#ffffff" stroke="#ffffff">80</text>
<text transform="translate(265.24 401.9) scale(1 1.035)" fill="#ffffff" stroke="#ffffff">97</text>
<text transform="translate(236.68 432.5) scale(1 1.035)" fill="#ffffff" stroke="#ffffff">81</text>
<text transform="translate(265.24 432.5) scale(1 1.035)" fill="#ffffff" stroke="#ffffff">97</text>
<text transform="translate(293.8 432.5) scale(1 1.035)" fill="#ffffff" stroke="#ffffff">98</text>
<text transform="translate(236.68 463.1) scale(1 1.035)" fill="#ffffff" stroke="#ffffff">81</text>
<text transform="translate(265.24 463.1) scale(1 1.035)" fill="#ffffff" stroke="#ffffff">97</text>
<text transform="translate(293.8 463.1) scale(1 1.035)" fill="#ffffff" stroke="#ffffff">98</text>
<text transform="translate(322.36 463.1) scale(0.78 1.035)" fill="#ffffff" stroke="#ffffff">100</text>
<text transform="translate(236.68 493.7) scale(1 1.035)" fill="#ffffff" stroke="#ffffff">81</text>
<text transform="translate(265.24 493.7) scale(1 1.035)" fill="#ffffff" stroke="#ffffff">97</text>
<text transform="translate(293.8 493.7) scale(1 1.035)" fill="#ffffff" stroke="#ffffff">98</text>
<text transform="translate(322.36 493.7) scale(0.78 1.035)" fill="#ffffff" stroke="#ffffff">100</text>
<text transform="translate(350.92 493.7) scale(0.78 1.035)" fill="#ffffff" stroke="#ffffff">100</text>
<text transform="translate(236.68 524.3) scale(1 1.035)" fill="#ffffff" stroke="#ffffff">81</text>
<text transform="translate(265.24 524.3) scale(1 1.035)" fill="#ffffff" stroke="#ffffff">97</text>
<text transform="translate(293.8 524.3) scale(1 1.035)" fill="#ffffff" stroke="#ffffff">98</text>
<text transform="translate(322.36 524.3) scale(1 1.035)" fill="#ffffff" stroke="#ffffff">98</text>
<text transform="translate(350.92 524.3) scale(1 1.035)" fill="#ffffff" stroke="#ffffff">98</text>
<text transform="translate(379.48 524.3) scale(1 1.035)" fill="#ffffff" stroke="#ffffff">98</text>
<text transform="translate(236.68 554.9) scale(1 1.035)" fill="#161616" stroke="#161616">51</text>
<text transform="translate(265.24 554.9) scale(1 1.035)" fill="#161616" stroke="#161616">61</text>
<text transform="translate(293.8 554.9) scale(1 1.035)" fill="#161616" stroke="#161616">62</text>
<text transform="translate(322.36 554.9) scale(1 1.035)" fill="#161616" stroke="#161616">62</text>
<text transform="translate(350.92 554.9) scale(1 1.035)" fill="#161616" stroke="#161616">62</text>
<text transform="translate(379.48 554.9) scale(1 1.035)" fill="#161616" stroke="#161616">62</text>
<text transform="translate(408.04 554.9) scale(1 1.035)" fill="#161616" stroke="#161616">62</text>
<text transform="translate(236.68 585.5) scale(1 1.035)" fill="#ffffff" stroke="#ffffff">81</text>
<text transform="translate(265.24 585.5) scale(1 1.035)" fill="#ffffff" stroke="#ffffff">94</text>
<text transform="translate(293.8 585.5) scale(1 1.035)" fill="#ffffff" stroke="#ffffff">95</text>
<text transform="translate(322.36 585.5) scale(1 1.035)" fill="#ffffff" stroke="#ffffff">95</text>
<text transform="translate(350.92 585.5) scale(1 1.035)" fill="#ffffff" stroke="#ffffff">95</text>
<text transform="translate(379.48 585.5) scale(1 1.035)" fill="#ffffff" stroke="#ffffff">95</text>
<text transform="translate(408.04 585.5) scale(1 1.035)" fill="#ffffff" stroke="#ffffff">96</text>
<text transform="translate(436.6 585.5) scale(1 1.035)" fill="#ffffff" stroke="#ffffff">63</text>
<text transform="translate(236.68 616.1) scale(1 1.035)" fill="#ffffff" stroke="#ffffff">72</text>
<text transform="translate(265.24 616.1) scale(1 1.035)" fill="#ffffff" stroke="#ffffff">88</text>
<text transform="translate(293.8 616.1) scale(1 1.035)" fill="#ffffff" stroke="#ffffff">89</text>
<text transform="translate(322.36 616.1) scale(1 1.035)" fill="#ffffff" stroke="#ffffff">89</text>
<text transform="translate(350.92 616.1) scale(1 1.035)" fill="#ffffff" stroke="#ffffff">89</text>
<text transform="translate(379.48 616.1) scale(1 1.035)" fill="#ffffff" stroke="#ffffff">89</text>
<text transform="translate(408.04 616.1) scale(1 1.035)" fill="#ffffff" stroke="#ffffff">90</text>
<text transform="translate(436.6 616.1) scale(1 1.035)" fill="#ffffff" stroke="#ffffff">64</text>
<text transform="translate(465.16 616.1) scale(1 1.035)" fill="#ffffff" stroke="#ffffff">91</text>
<text transform="translate(236.68 646.7) scale(1 1.035)" fill="#ffffff" stroke="#ffffff">80</text>
<text transform="translate(265.24 646.7) scale(1 1.035)" fill="#ffffff" stroke="#ffffff">97</text>
<text transform="translate(293.8 646.7) scale(1 1.035)" fill="#ffffff" stroke="#ffffff">98</text>
<text transform="translate(322.36 646.7) scale(1 1.035)" fill="#ffffff" stroke="#ffffff">98</text>
<text transform="translate(350.92 646.7) scale(1 1.035)" fill="#ffffff" stroke="#ffffff">98</text>
<text transform="translate(379.48 646.7) scale(1 1.035)" fill="#ffffff" stroke="#ffffff">98</text>
<text transform="translate(408.04 646.7) scale(1 1.035)" fill="#ffffff" stroke="#ffffff">99</text>
<text transform="translate(436.6 646.7) scale(1 1.035)" fill="#ffffff" stroke="#ffffff">63</text>
<text transform="translate(465.16 646.7) scale(1 1.035)" fill="#ffffff" stroke="#ffffff">97</text>
<text transform="translate(493.72 646.7) scale(1 1.035)" fill="#ffffff" stroke="#ffffff">91</text>
<text transform="translate(236.68 677.3) scale(1 1.035)" fill="#ffffff" stroke="#ffffff">81</text>
<text transform="translate(265.24 677.3) scale(1 1.035)" fill="#ffffff" stroke="#ffffff">97</text>
<text transform="translate(293.8 677.3) scale(1 1.035)" fill="#ffffff" stroke="#ffffff">98</text>
<text transform="translate(322.36 677.3) scale(1 1.035)" fill="#ffffff" stroke="#ffffff">98</text>
<text transform="translate(350.92 677.3) scale(1 1.035)" fill="#ffffff" stroke="#ffffff">98</text>
<text transform="translate(379.48 677.3) scale(1 1.035)" fill="#ffffff" stroke="#ffffff">98</text>
<text transform="translate(408.04 677.3) scale(1 1.035)" fill="#ffffff" stroke="#ffffff">99</text>
<text transform="translate(436.6 677.3) scale(1 1.035)" fill="#ffffff" stroke="#ffffff">63</text>
<text transform="translate(465.16 677.3) scale(1 1.035)" fill="#ffffff" stroke="#ffffff">97</text>
<text transform="translate(493.72 677.3) scale(1 1.035)" fill="#ffffff" stroke="#ffffff">91</text>
<text transform="translate(522.28 677.3) scale(0.78 1.035)" fill="#ffffff" stroke="#ffffff">100</text>
<text transform="translate(236.68 707.9) scale(1 1.035)" fill="#ffffff" stroke="#ffffff">63</text>
<text transform="translate(265.24 707.9) scale(1 1.035)" fill="#ffffff" stroke="#ffffff">66</text>
<text transform="translate(293.8 707.9) scale(1 1.035)" fill="#ffffff" stroke="#ffffff">67</text>
<text transform="translate(322.36 707.9) scale(1 1.035)" fill="#ffffff" stroke="#ffffff">67</text>
<text transform="translate(350.92 707.9) scale(1 1.035)" fill="#ffffff" stroke="#ffffff">67</text>
<text transform="translate(379.48 707.9) scale(1 1.035)" fill="#ffffff" stroke="#ffffff">67</text>
<text transform="translate(408.04 707.9) scale(1 1.035)" fill="#ffffff" stroke="#ffffff">67</text>
<text transform="translate(436.6 707.9) scale(1 1.035)" fill="#161616" stroke="#161616">56</text>
<text transform="translate(465.16 707.9) scale(1 1.035)" fill="#ffffff" stroke="#ffffff">70</text>
<text transform="translate(493.72 707.9) scale(1 1.035)" fill="#ffffff" stroke="#ffffff">64</text>
<text transform="translate(522.28 707.9) scale(1 1.035)" fill="#ffffff" stroke="#ffffff">67</text>
<text transform="translate(550.84 707.9) scale(1 1.035)" fill="#ffffff" stroke="#ffffff">67</text>
<text transform="translate(236.68 738.5) scale(1 1.035)" fill="#ffffff" stroke="#ffffff">79</text>
<text transform="translate(265.24 738.5) scale(1 1.035)" fill="#ffffff" stroke="#ffffff">95</text>
<text transform="translate(293.8 738.5) scale(1 1.035)" fill="#ffffff" stroke="#ffffff">97</text>
<text transform="translate(322.36 738.5) scale(1 1.035)" fill="#ffffff" stroke="#ffffff">98</text>
<text transform="translate(350.92 738.5) scale(1 1.035)" fill="#ffffff" stroke="#ffffff">98</text>
<text transform="translate(379.48 738.5) scale(1 1.035)" fill="#ffffff" stroke="#ffffff">98</text>
<text transform="translate(408.04 738.5) scale(1 1.035)" fill="#ffffff" stroke="#ffffff">96</text>
<text transform="translate(436.6 738.5) scale(1 1.035)" fill="#ffffff" stroke="#ffffff">63</text>
<text transform="translate(465.16 738.5) scale(1 1.035)" fill="#ffffff" stroke="#ffffff">96</text>
<text transform="translate(493.72 738.5) scale(1 1.035)" fill="#ffffff" stroke="#ffffff">90</text>
<text transform="translate(522.28 738.5) scale(1 1.035)" fill="#ffffff" stroke="#ffffff">96</text>
<text transform="translate(550.84 738.5) scale(1 1.035)" fill="#ffffff" stroke="#ffffff">96</text>
<text transform="translate(579.4 738.5) scale(1 1.035)" fill="#ffffff" stroke="#ffffff">69</text>
<text transform="translate(236.68 769.1) scale(1 1.035)" fill="#161616" stroke="#161616">54</text>
<text transform="translate(265.24 769.1) scale(1 1.035)" fill="#161616" stroke="#161616">48</text>
<text transform="translate(293.8 769.1) scale(1 1.035)" fill="#161616" stroke="#161616">49</text>
<text transform="translate(322.36 769.1) scale(1 1.035)" fill="#161616" stroke="#161616">49</text>
<text transform="translate(350.92 769.1) scale(1 1.035)" fill="#161616" stroke="#161616">49</text>
<text transform="translate(379.48 769.1) scale(1 1.035)" fill="#161616" stroke="#161616">49</text>
<text transform="translate(408.04 769.1) scale(1 1.035)" fill="#161616" stroke="#161616">48</text>
<text transform="translate(436.6 769.1) scale(1 1.035)" fill="#161616" stroke="#161616">52</text>
<text transform="translate(465.16 769.1) scale(1 1.035)" fill="#161616" stroke="#161616">51</text>
<text transform="translate(493.72 769.1) scale(1 1.035)" fill="#161616" stroke="#161616">49</text>
<text transform="translate(522.28 769.1) scale(1 1.035)" fill="#161616" stroke="#161616">49</text>
<text transform="translate(550.84 769.1) scale(1 1.035)" fill="#161616" stroke="#161616">49</text>
<text transform="translate(579.4 769.1) scale(1 1.035)" fill="#161616" stroke="#161616">62</text>
<text transform="translate(607.96 769.1) scale(1 1.035)" fill="#161616" stroke="#161616">51</text>
<text transform="translate(236.68 799.7) scale(1 1.035)" fill="#161616" stroke="#161616">34</text>
<text transform="translate(265.24 799.7) scale(1 1.035)" fill="#161616" stroke="#161616">29</text>
<text transform="translate(293.8 799.7) scale(1 1.035)" fill="#161616" stroke="#161616">29</text>
<text transform="translate(322.36 799.7) scale(1 1.035)" fill="#161616" stroke="#161616">29</text>
<text transform="translate(350.92 799.7) scale(1 1.035)" fill="#161616" stroke="#161616">29</text>
<text transform="translate(379.48 799.7) scale(1 1.035)" fill="#161616" stroke="#161616">29</text>
<text transform="translate(408.04 799.7) scale(1 1.035)" fill="#161616" stroke="#161616">29</text>
<text transform="translate(436.6 799.7) scale(1 1.035)" fill="#161616" stroke="#161616">41</text>
<text transform="translate(465.16 799.7) scale(1 1.035)" fill="#161616" stroke="#161616">28</text>
<text transform="translate(493.72 799.7) scale(1 1.035)" fill="#161616" stroke="#161616">37</text>
<text transform="translate(522.28 799.7) scale(1 1.035)" fill="#161616" stroke="#161616">30</text>
<text transform="translate(550.84 799.7) scale(1 1.035)" fill="#161616" stroke="#161616">29</text>
<text transform="translate(579.4 799.7) scale(1 1.035)" fill="#161616" stroke="#161616">48</text>
<text transform="translate(607.96 799.7) scale(1 1.035)" fill="#161616" stroke="#161616">29</text>
<text transform="translate(636.52 799.7) scale(1 1.035)" fill="#161616" stroke="#161616">52</text>
<text transform="translate(236.68 830.3) scale(1 1.035)" fill="#ffffff" stroke="#ffffff">71</text>
<text transform="translate(265.24 830.3) scale(1 1.035)" fill="#ffffff" stroke="#ffffff">85</text>
<text transform="translate(293.8 830.3) scale(1 1.035)" fill="#ffffff" stroke="#ffffff">85</text>
<text transform="translate(322.36 830.3) scale(1 1.035)" fill="#ffffff" stroke="#ffffff">85</text>
<text transform="translate(350.92 830.3) scale(1 1.035)" fill="#ffffff" stroke="#ffffff">85</text>
<text transform="translate(379.48 830.3) scale(1 1.035)" fill="#ffffff" stroke="#ffffff">85</text>
<text transform="translate(408.04 830.3) scale(1 1.035)" fill="#ffffff" stroke="#ffffff">85</text>
<text transform="translate(436.6 830.3) scale(1 1.035)" fill="#161616" stroke="#161616">54</text>
<text transform="translate(465.16 830.3) scale(1 1.035)" fill="#ffffff" stroke="#ffffff">83</text>
<text transform="translate(493.72 830.3) scale(1 1.035)" fill="#ffffff" stroke="#ffffff">78</text>
<text transform="translate(522.28 830.3) scale(1 1.035)" fill="#ffffff" stroke="#ffffff">85</text>
<text transform="translate(550.84 830.3) scale(1 1.035)" fill="#ffffff" stroke="#ffffff">85</text>
<text transform="translate(579.4 830.3) scale(1 1.035)" fill="#ffffff" stroke="#ffffff">63</text>
<text transform="translate(607.96 830.3) scale(1 1.035)" fill="#ffffff" stroke="#ffffff">84</text>
<text transform="translate(636.52 830.3) scale(1 1.035)" fill="#161616" stroke="#161616">47</text>
<text transform="translate(665.08 830.3) scale(1 1.035)" fill="#161616" stroke="#161616">33</text>
<text transform="translate(236.68 860.9) scale(1 1.035)" fill="#ffffff" stroke="#ffffff">73</text>
<text transform="translate(265.24 860.9) scale(1 1.035)" fill="#ffffff" stroke="#ffffff">88</text>
<text transform="translate(293.8 860.9) scale(1 1.035)" fill="#ffffff" stroke="#ffffff">88</text>
<text transform="translate(322.36 860.9) scale(1 1.035)" fill="#ffffff" stroke="#ffffff">88</text>
<text transform="translate(350.92 860.9) scale(1 1.035)" fill="#ffffff" stroke="#ffffff">88</text>
<text transform="translate(379.48 860.9) scale(1 1.035)" fill="#ffffff" stroke="#ffffff">88</text>
<text transform="translate(408.04 860.9) scale(1 1.035)" fill="#ffffff" stroke="#ffffff">88</text>
<text transform="translate(436.6 860.9) scale(1 1.035)" fill="#161616" stroke="#161616">56</text>
<text transform="translate(465.16 860.9) scale(1 1.035)" fill="#ffffff" stroke="#ffffff">86</text>
<text transform="translate(493.72 860.9) scale(1 1.035)" fill="#ffffff" stroke="#ffffff">81</text>
<text transform="translate(522.28 860.9) scale(1 1.035)" fill="#ffffff" stroke="#ffffff">88</text>
<text transform="translate(550.84 860.9) scale(1 1.035)" fill="#ffffff" stroke="#ffffff">88</text>
<text transform="translate(579.4 860.9) scale(1 1.035)" fill="#161616" stroke="#161616">62</text>
<text transform="translate(607.96 860.9) scale(1 1.035)" fill="#ffffff" stroke="#ffffff">86</text>
<text transform="translate(636.52 860.9) scale(1 1.035)" fill="#161616" stroke="#161616">45</text>
<text transform="translate(665.08 860.9) scale(1 1.035)" fill="#161616" stroke="#161616">30</text>
<text transform="translate(693.64 860.9) scale(1 1.035)" fill="#ffffff" stroke="#ffffff">94</text>
<text transform="translate(236.68 891.5) scale(1 1.035)" fill="#161616" stroke="#161616">38</text>
<text transform="translate(265.24 891.5) scale(1 1.035)" fill="#161616" stroke="#161616">42</text>
<text transform="translate(293.8 891.5) scale(1 1.035)" fill="#161616" stroke="#161616">42</text>
<text transform="translate(322.36 891.5) scale(1 1.035)" fill="#161616" stroke="#161616">42</text>
<text transform="translate(350.92 891.5) scale(1 1.035)" fill="#161616" stroke="#161616">42</text>
<text transform="translate(379.48 891.5) scale(1 1.035)" fill="#161616" stroke="#161616">42</text>
<text transform="translate(408.04 891.5) scale(1 1.035)" fill="#161616" stroke="#161616">42</text>
<text transform="translate(436.6 891.5) scale(1 1.035)" fill="#161616" stroke="#161616">47</text>
<text transform="translate(465.16 891.5) scale(1 1.035)" fill="#161616" stroke="#161616">42</text>
<text transform="translate(493.72 891.5) scale(1 1.035)" fill="#161616" stroke="#161616">43</text>
<text transform="translate(522.28 891.5) scale(1 1.035)" fill="#161616" stroke="#161616">43</text>
<text transform="translate(550.84 891.5) scale(1 1.035)" fill="#161616" stroke="#161616">42</text>
<text transform="translate(579.4 891.5) scale(1 1.035)" fill="#161616" stroke="#161616">55</text>
<text transform="translate(607.96 891.5) scale(1 1.035)" fill="#161616" stroke="#161616">42</text>
<text transform="translate(636.52 891.5) scale(1 1.035)" fill="#161616" stroke="#161616">47</text>
<text transform="translate(665.08 891.5) scale(1 1.035)" fill="#161616" stroke="#161616">62</text>
<text transform="translate(693.64 891.5) scale(1 1.035)" fill="#161616" stroke="#161616">49</text>
<text transform="translate(722.2 891.5) scale(1 1.035)" fill="#161616" stroke="#161616">47</text>
<text transform="translate(236.68 922.1) scale(1 1.035)" fill="#161616" stroke="#161616">43</text>
<text transform="translate(265.24 922.1) scale(1 1.035)" fill="#161616" stroke="#161616">36</text>
<text transform="translate(293.8 922.1) scale(1 1.035)" fill="#161616" stroke="#161616">36</text>
<text transform="translate(322.36 922.1) scale(1 1.035)" fill="#161616" stroke="#161616">36</text>
<text transform="translate(350.92 922.1) scale(1 1.035)" fill="#161616" stroke="#161616">36</text>
<text transform="translate(379.48 922.1) scale(1 1.035)" fill="#161616" stroke="#161616">36</text>
<text transform="translate(408.04 922.1) scale(1 1.035)" fill="#161616" stroke="#161616">36</text>
<text transform="translate(436.6 922.1) scale(1 1.035)" fill="#161616" stroke="#161616">44</text>
<text transform="translate(465.16 922.1) scale(1 1.035)" fill="#161616" stroke="#161616">36</text>
<text transform="translate(493.72 922.1) scale(1 1.035)" fill="#161616" stroke="#161616">43</text>
<text transform="translate(522.28 922.1) scale(1 1.035)" fill="#161616" stroke="#161616">36</text>
<text transform="translate(550.84 922.1) scale(1 1.035)" fill="#161616" stroke="#161616">36</text>
<text transform="translate(579.4 922.1) scale(1 1.035)" fill="#161616" stroke="#161616">46</text>
<text transform="translate(607.96 922.1) scale(1 1.035)" fill="#161616" stroke="#161616">36</text>
<text transform="translate(636.52 922.1) scale(1 1.035)" fill="#161616" stroke="#161616">43</text>
<text transform="translate(665.08 922.1) scale(1 1.035)" fill="#ffffff" stroke="#ffffff">67</text>
<text transform="translate(693.64 922.1) scale(1 1.035)" fill="#161616" stroke="#161616">36</text>
<text transform="translate(722.2 922.1) scale(1 1.035)" fill="#161616" stroke="#161616">39</text>
<text transform="translate(750.76 922.1) scale(1 1.035)" fill="#161616" stroke="#161616">54</text>
<text transform="translate(236.68 952.7) scale(1 1.035)" fill="#ffffff" stroke="#ffffff">73</text>
<text transform="translate(265.24 952.7) scale(1 1.035)" fill="#ffffff" stroke="#ffffff">88</text>
<text transform="translate(293.8 952.7) scale(1 1.035)" fill="#ffffff" stroke="#ffffff">88</text>
<text transform="translate(322.36 952.7) scale(1 1.035)" fill="#ffffff" stroke="#ffffff">87</text>
<text transform="translate(350.92 952.7) scale(1 1.035)" fill="#ffffff" stroke="#ffffff">87</text>
<text transform="translate(379.48 952.7) scale(1 1.035)" fill="#ffffff" stroke="#ffffff">87</text>
<text transform="translate(408.04 952.7) scale(1 1.035)" fill="#ffffff" stroke="#ffffff">88</text>
<text transform="translate(436.6 952.7) scale(1 1.035)" fill="#161616" stroke="#161616">56</text>
<text transform="translate(465.16 952.7) scale(1 1.035)" fill="#ffffff" stroke="#ffffff">85</text>
<text transform="translate(493.72 952.7) scale(1 1.035)" fill="#ffffff" stroke="#ffffff">80</text>
<text transform="translate(522.28 952.7) scale(1 1.035)" fill="#ffffff" stroke="#ffffff">88</text>
<text transform="translate(550.84 952.7) scale(1 1.035)" fill="#ffffff" stroke="#ffffff">88</text>
<text transform="translate(579.4 952.7) scale(1 1.035)" fill="#161616" stroke="#161616">61</text>
<text transform="translate(607.96 952.7) scale(1 1.035)" fill="#ffffff" stroke="#ffffff">86</text>
<text transform="translate(636.52 952.7) scale(1 1.035)" fill="#161616" stroke="#161616">45</text>
<text transform="translate(665.08 952.7) scale(1 1.035)" fill="#161616" stroke="#161616">29</text>
<text transform="translate(693.64 952.7) scale(1 1.035)" fill="#ffffff" stroke="#ffffff">93</text>
<text transform="translate(722.2 952.7) scale(1 1.035)" fill="#ffffff" stroke="#ffffff">97</text>
<text transform="translate(750.76 952.7) scale(1 1.035)" fill="#161616" stroke="#161616">46</text>
<text transform="translate(779.32 952.7) scale(1 1.035)" fill="#161616" stroke="#161616">40</text>
<text transform="translate(236.68 983.3) scale(1 1.035)" fill="#ffffff" stroke="#ffffff">74</text>
<text transform="translate(265.24 983.3) scale(1 1.035)" fill="#ffffff" stroke="#ffffff">88</text>
<text transform="translate(293.8 983.3) scale(1 1.035)" fill="#ffffff" stroke="#ffffff">88</text>
<text transform="translate(322.36 983.3) scale(1 1.035)" fill="#ffffff" stroke="#ffffff">87</text>
<text transform="translate(350.92 983.3) scale(1 1.035)" fill="#ffffff" stroke="#ffffff">87</text>
<text transform="translate(379.48 983.3) scale(1 1.035)" fill="#ffffff" stroke="#ffffff">87</text>
<text transform="translate(408.04 983.3) scale(1 1.035)" fill="#ffffff" stroke="#ffffff">88</text>
<text transform="translate(436.6 983.3) scale(1 1.035)" fill="#161616" stroke="#161616">56</text>
<text transform="translate(465.16 983.3) scale(1 1.035)" fill="#ffffff" stroke="#ffffff">85</text>
<text transform="translate(493.72 983.3) scale(1 1.035)" fill="#ffffff" stroke="#ffffff">80</text>
<text transform="translate(522.28 983.3) scale(1 1.035)" fill="#ffffff" stroke="#ffffff">88</text>
<text transform="translate(550.84 983.3) scale(1 1.035)" fill="#ffffff" stroke="#ffffff">88</text>
<text transform="translate(579.4 983.3) scale(1 1.035)" fill="#161616" stroke="#161616">61</text>
<text transform="translate(607.96 983.3) scale(1 1.035)" fill="#ffffff" stroke="#ffffff">86</text>
<text transform="translate(636.52 983.3) scale(1 1.035)" fill="#161616" stroke="#161616">44</text>
<text transform="translate(665.08 983.3) scale(1 1.035)" fill="#161616" stroke="#161616">29</text>
<text transform="translate(693.64 983.3) scale(1 1.035)" fill="#ffffff" stroke="#ffffff">94</text>
<text transform="translate(722.2 983.3) scale(1 1.035)" fill="#ffffff" stroke="#ffffff">97</text>
<text transform="translate(750.76 983.3) scale(1 1.035)" fill="#161616" stroke="#161616">46</text>
<text transform="translate(779.32 983.3) scale(1 1.035)" fill="#161616" stroke="#161616">39</text>
<text transform="translate(807.88 983.3) scale(1 1.035)" fill="#ffffff" stroke="#ffffff">97</text>
<text transform="translate(236.68 1013.9) scale(1 1.035)" fill="#161616" stroke="#161616">61</text>
<text transform="translate(265.24 1013.9) scale(1 1.035)" fill="#ffffff" stroke="#ffffff">72</text>
<text transform="translate(293.8 1013.9) scale(1 1.035)" fill="#ffffff" stroke="#ffffff">72</text>
<text transform="translate(322.36 1013.9) scale(1 1.035)" fill="#ffffff" stroke="#ffffff">72</text>
<text transform="translate(350.92 1013.9) scale(1 1.035)" fill="#ffffff" stroke="#ffffff">72</text>
<text transform="translate(379.48 1013.9) scale(1 1.035)" fill="#ffffff" stroke="#ffffff">72</text>
<text transform="translate(408.04 1013.9) scale(1 1.035)" fill="#ffffff" stroke="#ffffff">72</text>
<text transform="translate(436.6 1013.9) scale(1 1.035)" fill="#161616" stroke="#161616">54</text>
<text transform="translate(465.16 1013.9) scale(1 1.035)" fill="#ffffff" stroke="#ffffff">70</text>
<text transform="translate(493.72 1013.9) scale(1 1.035)" fill="#ffffff" stroke="#ffffff">72</text>
<text transform="translate(522.28 1013.9) scale(1 1.035)" fill="#ffffff" stroke="#ffffff">73</text>
<text transform="translate(550.84 1013.9) scale(1 1.035)" fill="#ffffff" stroke="#ffffff">72</text>
<text transform="translate(579.4 1013.9) scale(1 1.035)" fill="#161616" stroke="#161616">60</text>
<text transform="translate(607.96 1013.9) scale(1 1.035)" fill="#ffffff" stroke="#ffffff">71</text>
<text transform="translate(636.52 1013.9) scale(1 1.035)" fill="#161616" stroke="#161616">55</text>
<text transform="translate(665.08 1013.9) scale(1 1.035)" fill="#161616" stroke="#161616">44</text>
<text transform="translate(693.64 1013.9) scale(1 1.035)" fill="#ffffff" stroke="#ffffff">81</text>
<text transform="translate(722.2 1013.9) scale(1 1.035)" fill="#ffffff" stroke="#ffffff">79</text>
<text transform="translate(750.76 1013.9) scale(1 1.035)" fill="#161616" stroke="#161616">45</text>
<text transform="translate(779.32 1013.9) scale(1 1.035)" fill="#161616" stroke="#161616">44</text>
<text transform="translate(807.88 1013.9) scale(1 1.035)" fill="#ffffff" stroke="#ffffff">79</text>
<text transform="translate(836.44 1013.9) scale(1 1.035)" fill="#ffffff" stroke="#ffffff">79</text>
</g>
<g stroke="#000" stroke-width="1.5">
<line x1="879.28" y1="335.1" x2="888.08" y2="335.1"/>
<line x1="236.68" y1="1023.6" x2="236.68" y2="1032.4"/>
<line x1="879.28" y1="365.7" x2="888.08" y2="365.7"/>
<line x1="265.24" y1="1023.6" x2="265.24" y2="1032.4"/>
<line x1="879.28" y1="396.3" x2="888.08" y2="396.3"/>
<line x1="293.8" y1="1023.6" x2="293.8" y2="1032.4"/>
<line x1="879.28" y1="426.9" x2="888.08" y2="426.9"/>
<line x1="322.36" y1="1023.6" x2="322.36" y2="1032.4"/>
<line x1="879.28" y1="457.5" x2="888.08" y2="457.5"/>
<line x1="350.92" y1="1023.6" x2="350.92" y2="1032.4"/>
<line x1="879.28" y1="488.1" x2="888.08" y2="488.1"/>
<line x1="379.48" y1="1023.6" x2="379.48" y2="1032.4"/>
<line x1="879.28" y1="518.7" x2="888.08" y2="518.7"/>
<line x1="408.04" y1="1023.6" x2="408.04" y2="1032.4"/>
<line x1="879.28" y1="549.3" x2="888.08" y2="549.3"/>
<line x1="436.6" y1="1023.6" x2="436.6" y2="1032.4"/>
<line x1="879.28" y1="579.9" x2="888.08" y2="579.9"/>
<line x1="465.16" y1="1023.6" x2="465.16" y2="1032.4"/>
<line x1="879.28" y1="610.5" x2="888.08" y2="610.5"/>
<line x1="493.72" y1="1023.6" x2="493.72" y2="1032.4"/>
<line x1="879.28" y1="641.1" x2="888.08" y2="641.1"/>
<line x1="522.28" y1="1023.6" x2="522.28" y2="1032.4"/>
<line x1="879.28" y1="671.7" x2="888.08" y2="671.7"/>
<line x1="550.84" y1="1023.6" x2="550.84" y2="1032.4"/>
<line x1="879.28" y1="702.3" x2="888.08" y2="702.3"/>
<line x1="579.4" y1="1023.6" x2="579.4" y2="1032.4"/>
<line x1="879.28" y1="732.9" x2="888.08" y2="732.9"/>
<line x1="607.96" y1="1023.6" x2="607.96" y2="1032.4"/>
<line x1="879.28" y1="763.5" x2="888.08" y2="763.5"/>
<line x1="636.52" y1="1023.6" x2="636.52" y2="1032.4"/>
<line x1="879.28" y1="794.1" x2="888.08" y2="794.1"/>
<line x1="665.08" y1="1023.6" x2="665.08" y2="1032.4"/>
<line x1="879.28" y1="824.7" x2="888.08" y2="824.7"/>
<line x1="693.64" y1="1023.6" x2="693.64" y2="1032.4"/>
<line x1="879.28" y1="855.3" x2="888.08" y2="855.3"/>
<line x1="722.2" y1="1023.6" x2="722.2" y2="1032.4"/>
<line x1="879.28" y1="885.9" x2="888.08" y2="885.9"/>
<line x1="750.76" y1="1023.6" x2="750.76" y2="1032.4"/>
<line x1="879.28" y1="916.5" x2="888.08" y2="916.5"/>
<line x1="779.32" y1="1023.6" x2="779.32" y2="1032.4"/>
<line x1="879.28" y1="947.1" x2="888.08" y2="947.1"/>
<line x1="807.88" y1="1023.6" x2="807.88" y2="1032.4"/>
<line x1="879.28" y1="977.7" x2="888.08" y2="977.7"/>
<line x1="836.44" y1="1023.6" x2="836.44" y2="1032.4"/>
<line x1="879.28" y1="1008.3" x2="888.08" y2="1008.3"/>
<line x1="865" y1="1023.6" x2="865" y2="1032.4"/>
</g>
<g font-family='"Liberation Sans", sans-serif' font-size="18.6" stroke-width="0.12">
<text transform="translate(893.2 341.9) scale(1 1.02)" fill="#808000" stroke="#808000">Cobl_002</text>
<text transform="translate(893.2 372.5) scale(1 1.02)" fill="#ff0000" stroke="#ff0000">Dvir_012</text>
<text transform="translate(893.2 403.1) scale(1 1.02)" fill="#808000" stroke="#808000">Lalb_315</text>
<text transform="translate(893.2 433.7) scale(1 1.02)" fill="#0000ff" stroke="#0000ff">Dsuz_307</text>
<text transform="translate(893.2 464.3) scale(1 1.02)" fill="#0000ff" stroke="#0000ff">DrosMulti_220</text>
<text transform="translate(893.2 494.9) scale(1 1.02)" fill="#0000ff" stroke="#0000ff">Dana_043</text>
<text transform="translate(893.2 525.5) scale(1 1.02)" fill="#808000" stroke="#808000">Dnov_309</text>
<text transform="translate(893.2 556.1) scale(1 1.02)" fill="#808000" stroke="#808000">Dall_033</text>
<text transform="translate(893.2 586.7) scale(1 1.02)" fill="#0000ff" stroke="#0000ff">Dmel_162</text>
<text transform="translate(893.2 617.3) scale(1 1.02)" fill="#0000ff" stroke="#0000ff">Dmel_174</text>
<text transform="translate(893.2 647.9) scale(1 1.02)" fill="#808000" stroke="#808000">Dall_030</text>
<text transform="translate(893.2 678.5) scale(1 1.02)" fill="#0000ff" stroke="#0000ff">Dmel_108</text>
<text transform="translate(893.2 709.1) scale(1 1.02)" fill="#808000" stroke="#808000">Cobs_003</text>
<text transform="translate(893.2 739.7) scale(1 1.02)" fill="#0000ff" stroke="#0000ff">Dsim_277</text>
<text transform="translate(893.2 770.3) scale(1 1.02)" fill="#0000ff" stroke="#0000ff">Dana_058</text>
<text transform="translate(893.2 800.9) scale(1 1.02)" fill="#008000" stroke="#008000">Dcoc_004</text>
<text transform="translate(893.2 831.5) scale(1 1.02)" fill="#008000" stroke="#008000">Hvit_312</text>
<text transform="translate(893.2 862.1) scale(1 1.02)" fill="#008000" stroke="#008000">Dcit_035</text>
<text transform="translate(893.2 892.7) scale(1 1.02)" fill="#0000ff" stroke="#0000ff">Ltri_320</text>
<text transform="translate(893.2 923.3) scale(1 1.02)" fill="#0000ff" stroke="#0000ff">Dsim_271</text>
<text transform="translate(893.2 953.9) scale(1 1.02)" fill="#0000ff" stroke="#0000ff">Dmau_059</text>
<text transform="translate(893.2 984.5) scale(1 1.02)" fill="#800080" stroke="#800080">Turt_321</text>
<text transform="translate(893.2 1015.1) scale(1 1.02)" fill="#0000ff" stroke="#0000ff">Aalb_001</text>
<text transform="translate(241.28 1038) rotate(-90) scale(1 1.02)" text-anchor="end" fill="#808000" stroke="#808000">Cobl_002</text>
<text transform="translate(269.84 1038) rotate(-90) scale(1 1.02)" text-anchor="end" fill="#ff0000" stroke="#ff0000">Dvir_012</text>
<text transform="translate(298.4 1038) rotate(-90) scale(1 1.02)" text-anchor="end" fill="#808000" stroke="#808000">Lalb_315</text>
<text transform="translate(326.96 1038) rotate(-90) scale(1 1.02)" text-anchor="end" fill="#0000ff" stroke="#0000ff">Dsuz_307</text>
<text transform="translate(355.52 1038) rotate(-90) scale(1 1.02)" text-anchor="end" fill="#0000ff" stroke="#0000ff">DrosMulti_220</text>
<text transform="translate(384.08 1038) rotate(-90) scale(1 1.02)" text-anchor="end" fill="#0000ff" stroke="#0000ff">Dana_043</text>
<text transform="translate(412.64 1038) rotate(-90) scale(1 1.02)" text-anchor="end" fill="#808000" stroke="#808000">Dnov_309</text>
<text transform="translate(441.2 1038) rotate(-90) scale(1 1.02)" text-anchor="end" fill="#808000" stroke="#808000">Dall_033</text>
<text transform="translate(469.76 1038) rotate(-90) scale(1 1.02)" text-anchor="end" fill="#0000ff" stroke="#0000ff">Dmel_162</text>
<text transform="translate(498.32 1038) rotate(-90) scale(1 1.02)" text-anchor="end" fill="#0000ff" stroke="#0000ff">Dmel_174</text>
<text transform="translate(526.88 1038) rotate(-90) scale(1 1.02)" text-anchor="end" fill="#808000" stroke="#808000">Dall_030</text>
<text transform="translate(555.44 1038) rotate(-90) scale(1 1.02)" text-anchor="end" fill="#0000ff" stroke="#0000ff">Dmel_108</text>
<text transform="translate(584 1038) rotate(-90) scale(1 1.02)" text-anchor="end" fill="#808000" stroke="#808000">Cobs_003</text>
<text transform="translate(612.56 1038) rotate(-90) scale(1 1.02)" text-anchor="end" fill="#0000ff" stroke="#0000ff">Dsim_277</text>
<text transform="translate(641.12 1038) rotate(-90) scale(1 1.02)" text-anchor="end" fill="#0000ff" stroke="#0000ff">Dana_058</text>
<text transform="translate(669.68 1038) rotate(-90) scale(1 1.02)" text-anchor="end" fill="#008000" stroke="#008000">Dcoc_004</text>
<text transform="translate(698.24 1038) rotate(-90) scale(1 1.02)" text-anchor="end" fill="#008000" stroke="#008000">Hvit_312</text>
<text transform="translate(726.8 1038) rotate(-90) scale(1 1.02)" text-anchor="end" fill="#008000" stroke="#008000">Dcit_035</text>
<text transform="translate(755.36 1038) rotate(-90) scale(1 1.02)" text-anchor="end" fill="#0000ff" stroke="#0000ff">Ltri_320</text>
<text transform="translate(783.92 1038) rotate(-90) scale(1 1.02)" text-anchor="end" fill="#0000ff" stroke="#0000ff">Dsim_271</text>
<text transform="translate(812.48 1038) rotate(-90) scale(1 1.02)" text-anchor="end" fill="#0000ff" stroke="#0000ff">Dmau_059</text>
<text transform="translate(841.04 1038) rotate(-90) scale(1 1.02)" text-anchor="end" fill="#800080" stroke="#800080">Turt_321</text>
<text transform="translate(869.6 1038) rotate(-90) scale(1 1.02)" text-anchor="end" fill="#0000ff" stroke="#0000ff">Aalb_001</text>
</g>
<rect x="1230.9" y="311.4" width="26.1" height="41.96" fill="#4b0082"/>
<rect x="1230.9" y="353.36" width="26.1" height="125.88" fill="#ffa500"/>
<rect x="1230.9" y="479.24" width="26.1" height="41.96" fill="#4b0082"/>
<rect x="1230.9" y="521.2" width="26.1" height="41.96" fill="#4169e1"/>
<rect x="1230.9" y="563.16" width="26.1" height="251.76" fill="#ffa500"/>
<rect x="1230.9" y="814.92" width="26.1" height="209.8" fill="#4b0082"/>
<g>
<rect x="1257.2" y="353.36" width="39.3" height="42.66" fill="#fff5eb"/>
<rect x="1257.2" y="395.32" width="40" height="42.66" fill="#fff5eb"/>
<rect x="1296.5" y="395.32" width="39.3" height="42.66" fill="#df5106"/>
<rect x="1257.2" y="437.28" width="40" height="42.66" fill="#fff5eb"/>
<rect x="1296.5" y="437.28" width="40" height="42.66" fill="#e75b0b"/>
<rect x="1335.8" y="437.28" width="39.3" height="42.66" fill="#db4b03"/>
<rect x="1257.2" y="479.24" width="40" height="42.66" fill="#fff5eb"/>
<rect x="1296.5" y="479.24" width="40" height="42.66" fill="#d64701"/>
<rect x="1335.8" y="479.24" width="40" height="42.66" fill="#bd3e02"/>
<rect x="1375.1" y="479.24" width="39.3" height="42.66" fill="#ad3803"/>
<rect x="1257.2" y="521.2" width="40" height="42.66" fill="#fff5eb"/>
<rect x="1296.5" y="521.2" width="40" height="42.66" fill="#db4b03"/>
<rect x="1335.8" y="521.2" width="40" height="42.66" fill="#c54102"/>
<rect x="1375.1" y="521.2" width="40" height="42.66" fill="#ad3803"/>
<rect x="1414.4" y="521.2" width="39.3" height="42.66" fill="#8b2c04"/>
<rect x="1257.2" y="563.16" width="40" height="42.66" fill="#fff5eb"/>
<rect x="1296.5" y="563.16" width="40" height="42.66" fill="#fd9e54"/>
<rect x="1335.8" y="563.16" width="40" height="42.66" fill="#fd9e54"/>
<rect x="1375.1" y="563.16" width="40" height="42.66" fill="#fda35c"/>
<rect x="1414.4" y="563.16" width="40" height="42.66" fill="#fd9e54"/>
<rect x="1453.7" y="563.16" width="39.3" height="42.66" fill="#fda35c"/>
<rect x="1257.2" y="605.12" width="40" height="42.66" fill="#fff5eb"/>
<rect x="1296.5" y="605.12" width="40" height="42.66" fill="#fd994d"/>
<rect x="1335.8" y="605.12" width="40" height="42.66" fill="#fd9e54"/>
<rect x="1375.1" y="605.12" width="40" height="42.66" fill="#fda35c"/>
<rect x="1414.4" y="605.12" width="40" height="42.66" fill="#fd994d"/>
<rect x="1453.7" y="605.12" width="40" height="42.66" fill="#fd9e54"/>
<rect x="1493" y="605.12" width="39.3" height="42.66" fill="#f26c16"/>
<rect x="1257.2" y="647.08" width="40" height="42.66" fill="#fff5eb"/>
<rect x="1296.5" y="647.08" width="40" height="42.66" fill="#fd994d"/>
<rect x="1335.8" y="647.08" width="40" height="42.66" fill="#fd994d"/>
<rect x="1375.1" y="647.08" width="40" height="42.66" fill="#fd9e54"/>
<rect x="1414.4" y="647.08" width="40" height="42.66" fill="#fd994d"/>
<rect x="1453.7" y="647.08" width="40" height="42.66" fill="#fd994d"/>
<rect x="1493" y="647.08" width="40" height="42.66" fill="#f26c16"/>
<rect x="1532.3" y="647.08" width="39.3" height="42.66" fill="#bd3e02"/>
<rect x="1257.2" y="689.04" width="40" height="42.66" fill="#fff5eb"/>
<rect x="1296.5" y="689.04" width="40" height="42.66" fill="#fda35c"/>
<rect x="1335.8" y="689.04" width="40" height="42.66" fill="#fda965"/>
<rect x="1375.1" y="689.04" width="40" height="42.66" fill="#fdaf6c"/>
<rect x="1414.4" y="689.04" width="40" height="42.66" fill="#fda35c"/>
<rect x="1453.7" y="689.04" width="40" height="42.66" fill="#fda965"/>
<rect x="1493" y="689.04" width="40" height="42.66" fill="#f87d29"/>
<rect x="1532.3" y="689.04" width="40" height="42.66" fill="#eb600e"/>
<rect x="1571.6" y="689.04" width="39.3" height="42.66" fill="#e75b0b"/>
<rect x="1257.2" y="731" width="40" height="42.66" fill="#fff5eb"/>
<rect x="1296.5" y="731" width="40" height="42.66" fill="#fda965"/>
<rect x="1335.8" y="731" width="40" height="42.66" fill="#fdaf6c"/>
<rect x="1375.1" y="731" width="40" height="42.66" fill="#fdb475"/>
<rect x="1414.4" y="731" width="40" height="42.66" fill="#fda965"/>
<rect x="1453.7" y="731" width="40" height="42.66" fill="#fdaf6c"/>
<rect x="1493" y="731" width="40" height="42.66" fill="#f98230"/>
<rect x="1532.3" y="731" width="40" height="42.66" fill="#f26c16"/>
<rect x="1571.6" y="731" width="40" height="42.66" fill="#ef6612"/>
<rect x="1610.9" y="731" width="39.3" height="42.66" fill="#e35608"/>
<rect x="1257.2" y="772.96" width="40" height="42.66" fill="#fff5eb"/>
<rect x="1296.5" y="772.96" width="40" height="42.66" fill="#fd9e54"/>
<rect x="1335.8" y="772.96" width="40" height="42.66" fill="#fd9e54"/>
<rect x="1375.1" y="772.96" width="40" height="42.66" fill="#fda35c"/>
<rect x="1414.4" y="772.96" width="40" height="42.66" fill="#fd994d"/>
<rect x="1453.7" y="772.96" width="40" height="42.66" fill="#fd9e54"/>
<rect x="1493" y="772.96" width="40" height="42.66" fill="#fd8f3e"/>
<rect x="1532.3" y="772.96" width="40" height="42.66" fill="#f87d29"/>
<rect x="1571.6" y="772.96" width="40" height="42.66" fill="#f87d29"/>
<rect x="1610.9" y="772.96" width="40" height="42.66" fill="#fc8937"/>
<rect x="1650.2" y="772.96" width="39.3" height="42.66" fill="#fd8f3e"/>
<rect x="1257.2" y="814.92" width="40" height="42.66" fill="#fff5eb"/>
<rect x="1296.5" y="814.92" width="40" height="42.66" fill="#fd9e54"/>
<rect x="1335.8" y="814.92" width="40" height="42.66" fill="#fda35c"/>
<rect x="1375.1" y="814.92" width="40" height="42.66" fill="#fda965"/>
<rect x="1414.4" y="814.92" width="40" height="42.66" fill="#fd9e54"/>
<rect x="1453.7" y="814.92" width="40" height="42.66" fill="#fda35c"/>
<rect x="1493" y="814.92" width="40" height="42.66" fill="#fd8f3e"/>
<rect x="1532.3" y="814.92" width="40" height="42.66" fill="#f98230"/>
<rect x="1571.6" y="814.92" width="40" height="42.66" fill="#f87d29"/>
<rect x="1610.9" y="814.92" width="40" height="42.66" fill="#fd8f3e"/>
<rect x="1650.2" y="814.92" width="40" height="42.66" fill="#fd9446"/>
<rect x="1689.5" y="814.92" width="39.3" height="42.66" fill="#fd8f3e"/>
<rect x="1257.2" y="856.88" width="40" height="42.66" fill="#fff5eb"/>
<rect x="1296.5" y="856.88" width="40" height="42.66" fill="#fdd0a2"/>
<rect x="1335.8" y="856.88" width="40" height="42.66" fill="#fdc590"/>
<rect x="1375.1" y="856.88" width="40" height="42.66" fill="#fdd3a9"/>
<rect x="1414.4" y="856.88" width="40" height="42.66" fill="#fdca99"/>
<rect x="1453.7" y="856.88" width="40" height="42.66" fill="#fdd0a2"/>
<rect x="1493" y="856.88" width="40" height="42.66" fill="#fdc590"/>
<rect x="1532.3" y="856.88" width="40" height="42.66" fill="#fdbf86"/>
<rect x="1571.6" y="856.88" width="40" height="42.66" fill="#fdb97d"/>
<rect x="1610.9" y="856.88" width="40" height="42.66" fill="#fdca99"/>
<rect x="1650.2" y="856.88" width="40" height="42.66" fill="#fdca99"/>
<rect x="1689.5" y="856.88" width="40" height="42.66" fill="#fdc590"/>
<rect x="1728.8" y="856.88" width="39.3" height="42.66" fill="#fdc590"/>
<rect x="1257.2" y="898.84" width="40" height="42.66" fill="#ffefe0"/>
<rect x="1296.5" y="898.84" width="40" height="42.66" fill="#fdaf6c"/>
<rect x="1335.8" y="898.84" width="40" height="42.66" fill="#fdb97d"/>
<rect x="1375.1" y="898.84" width="40" height="42.66" fill="#fdbf86"/>
<rect x="1414.4" y="898.84" width="40" height="42.66" fill="#fdb475"/>
<rect x="1453.7" y="898.84" width="40" height="42.66" fill="#fdb97d"/>
<rect x="1493" y="898.84" width="40" height="42.66" fill="#fdbf86"/>
<rect x="1532.3" y="898.84" width="40" height="42.66" fill="#fdb475"/>
<rect x="1571.6" y="898.84" width="40" height="42.66" fill="#fdb475"/>
<rect x="1610.9" y="898.84" width="40" height="42.66" fill="#fdbf86"/>
<rect x="1650.2" y="898.84" width="40" height="42.66" fill="#fdc590"/>
<rect x="1689.5" y="898.84" width="40" height="42.66" fill="#fdb97d"/>
<rect x="1728.8" y="898.84" width="40" height="42.66" fill="#fdb97d"/>
<rect x="1768.1" y="898.84" width="39.3" height="42.66" fill="#fdd0a2"/>
<rect x="1257.2" y="940.8" width="40" height="42.66" fill="#fff5eb"/>
<rect x="1296.5" y="940.8" width="40" height="42.66" fill="#fdd0a2"/>
<rect x="1335.8" y="940.8" width="40" height="42.66" fill="#fdd0a2"/>
<rect x="1375.1" y="940.8" width="40" height="42.66" fill="#fdd7af"/>
<rect x="1414.4" y="940.8" width="40" height="42.66" fill="#fdd0a2"/>
<rect x="1453.7" y="940.8" width="40" height="42.66" fill="#fdd0a2"/>
<rect x="1493" y="940.8" width="40" height="42.66" fill="#fdbf86"/>
<rect x="1532.3" y="940.8" width="40" height="42.66" fill="#fdb97d"/>
<rect x="1571.6" y="940.8" width="40" height="42.66" fill="#fdb97d"/>
<rect x="1610.9" y="940.8" width="40" height="42.66" fill="#fdca99"/>
<rect x="1650.2" y="940.8" width="40" height="42.66" fill="#fdca99"/>
<rect x="1689.5" y="940.8" width="40" height="42.66" fill="#fdbf86"/>
<rect x="1728.8" y="940.8" width="40" height="42.66" fill="#fdbf86"/>
<rect x="1768.1" y="940.8" width="40" height="42.66" fill="#feead6"/>
<rect x="1807.4" y="940.8" width="39.3" height="42.66" fill="#fee5cc"/>
<rect x="1257.2" y="982.76" width="40" height="41.96" fill="#fff5eb"/>
<rect x="1296.5" y="982.76" width="40" height="41.96" fill="#fdd3a9"/>
<rect x="1335.8" y="982.76" width="40" height="41.96" fill="#fdd3a9"/>
<rect x="1375.1" y="982.76" width="40" height="41.96" fill="#fddab6"/>
<rect x="1414.4" y="982.76" width="40" height="41.96" fill="#fdd3a9"/>
<rect x="1453.7" y="982.76" width="40" height="41.96" fill="#fdd7af"/>
<rect x="1493" y="982.76" width="40" height="41.96" fill="#fdc590"/>
<rect x="1532.3" y="982.76" width="40" height="41.96" fill="#fdb97d"/>
<rect x="1571.6" y="982.76" width="40" height="41.96" fill="#fdb97d"/>
<rect x="1610.9" y="982.76" width="40" height="41.96" fill="#fdc590"/>
<rect x="1650.2" y="982.76" width="40" height="41.96" fill="#fdd0a2"/>
<rect x="1689.5" y="982.76" width="40" height="41.96" fill="#fdbf86"/>
<rect x="1728.8" y="982.76" width="40" height="41.96" fill="#fdca99"/>
<rect x="1768.1" y="982.76" width="40" height="41.96" fill="#fee8d2"/>
<rect x="1807.4" y="982.76" width="40" height="41.96" fill="#fee2c6"/>
<rect x="1846.7" y="982.76" width="39.3" height="41.96" fill="#fee8d2"/>
</g>
<g font-family='"Liberation Sans", sans-serif' font-size="20" text-anchor="middle" stroke-width="0.15" stroke-linejoin="round">
<text transform="translate(1276.85 380.04) scale(1 1.085)" fill="#161616" stroke="#161616">38</text>
<text transform="translate(1276.85 422) scale(1 1.085)" fill="#161616" stroke="#161616">40</text>
<text transform="translate(1316.15 422) scale(1 1.085)" fill="#ffffff" stroke="#ffffff">86</text>
<text transform="translate(1276.85 463.96) scale(1 1.085)" fill="#161616" stroke="#161616">36</text>
<text transform="translate(1316.15 463.96) scale(1 1.085)" fill="#ffffff" stroke="#ffffff">84</text>
<text transform="translate(1355.45 463.96) scale(1 1.085)" fill="#ffffff" stroke="#ffffff">87</text>
<text transform="translate(1276.85 505.92) scale(1 1.085)" fill="#161616" stroke="#161616">37</text>
<text transform="translate(1316.15 505.92) scale(1 1.085)" fill="#ffffff" stroke="#ffffff">88</text>
<text transform="translate(1355.45 505.92) scale(1 1.085)" fill="#ffffff" stroke="#ffffff">91</text>
<text transform="translate(1394.75 505.92) scale(1 1.085)" fill="#ffffff" stroke="#ffffff">93</text>
<text transform="translate(1276.85 547.88) scale(1 1.085)" fill="#161616" stroke="#161616">37</text>
<text transform="translate(1316.15 547.88) scale(1 1.085)" fill="#ffffff" stroke="#ffffff">87</text>
<text transform="translate(1355.45 547.88) scale(1 1.085)" fill="#ffffff" stroke="#ffffff">90</text>
<text transform="translate(1394.75 547.88) scale(1 1.085)" fill="#ffffff" stroke="#ffffff">93</text>
<text transform="translate(1434.05 547.88) scale(1 1.085)" fill="#ffffff" stroke="#ffffff">98</text>
<text transform="translate(1276.85 589.84) scale(1 1.085)" fill="#161616" stroke="#161616">40</text>
<text transform="translate(1316.15 589.84) scale(1 1.085)" fill="#161616" stroke="#161616">72</text>
<text transform="translate(1355.45 589.84) scale(1 1.085)" fill="#161616" stroke="#161616">72</text>
<text transform="translate(1394.75 589.84) scale(1 1.085)" fill="#161616" stroke="#161616">71</text>
<text transform="translate(1434.05 589.84) scale(1 1.085)" fill="#161616" stroke="#161616">72</text>
<text transform="translate(1473.35 589.84) scale(1 1.085)" fill="#161616" stroke="#161616">71</text>
<text transform="translate(1276.85 631.8) scale(1 1.085)" fill="#161616" stroke="#161616">41</text>
<text transform="translate(1316.15 631.8) scale(1 1.085)" fill="#161616" stroke="#161616">73</text>
<text transform="translate(1355.45 631.8) scale(1 1.085)" fill="#161616" stroke="#161616">72</text>
<text transform="translate(1394.75 631.8) scale(1 1.085)" fill="#161616" stroke="#161616">71</text>
<text transform="translate(1434.05 631.8) scale(1 1.085)" fill="#161616" stroke="#161616">73</text>
<text transform="translate(1473.35 631.8) scale(1 1.085)" fill="#161616" stroke="#161616">72</text>
<text transform="translate(1512.65 631.8) scale(1 1.085)" fill="#ffffff" stroke="#ffffff">81</text>
<text transform="translate(1276.85 673.76) scale(1 1.085)" fill="#161616" stroke="#161616">42</text>
<text transform="translate(1316.15 673.76) scale(1 1.085)" fill="#161616" stroke="#161616">73</text>
<text transform="translate(1355.45 673.76) scale(1 1.085)" fill="#161616" stroke="#161616">73</text>
<text transform="translate(1394.75 673.76) scale(1 1.085)" fill="#161616" stroke="#161616">72</text>
<text transform="translate(1434.05 673.76) scale(1 1.085)" fill="#161616" stroke="#161616">73</text>
<text transform="translate(1473.35 673.76) scale(1 1.085)" fill="#161616" stroke="#161616">73</text>
<text transform="translate(1512.65 673.76) scale(1 1.085)" fill="#ffffff" stroke="#ffffff">81</text>
<text transform="translate(1551.95 673.76) scale(1 1.085)" fill="#ffffff" stroke="#ffffff">91</text>
<text transform="translate(1276.85 715.72) scale(1 1.085)" fill="#161616" stroke="#161616">40</text>
<text transform="translate(1316.15 715.72) scale(1 1.085)" fill="#161616" stroke="#161616">71</text>
<text transform="translate(1355.45 715.72) scale(1 1.085)" fill="#161616" stroke="#161616">70</text>
<text transform="translate(1394.75 715.72) scale(1 1.085)" fill="#161616" stroke="#161616">69</text>
<text transform="translate(1434.05 715.72) scale(1 1.085)" fill="#161616" stroke="#161616">71</text>
<text transform="translate(1473.35 715.72) scale(1 1.085)" fill="#161616" stroke="#161616">70</text>
<text transform="translate(1512.65 715.72) scale(1 1.085)" fill="#ffffff" stroke="#ffffff">78</text>
<text transform="translate(1551.95 715.72) scale(1 1.085)" fill="#ffffff" stroke="#ffffff">83</text>
<text transform="translate(1591.25 715.72) scale(1 1.085)" fill="#ffffff" stroke="#ffffff">84</text>
<text transform="translate(1276.85 757.68) scale(1 1.085)" fill="#161616" stroke="#161616">39</text>
<text transform="translate(1316.15 757.68) scale(1 1.085)" fill="#161616" stroke="#161616">70</text>
<text transform="translate(1355.45 757.68) scale(1 1.085)" fill="#161616" stroke="#161616">69</text>
<text transform="translate(1394.75 757.68) scale(1 1.085)" fill="#161616" stroke="#161616">68</text>
<text transform="translate(1434.05 757.68) scale(1 1.085)" fill="#161616" stroke="#161616">70</text>
<text transform="translate(1473.35 757.68) scale(1 1.085)" fill="#161616" stroke="#161616">69</text>
<text transform="translate(1512.65 757.68) scale(1 1.085)" fill="#ffffff" stroke="#ffffff">77</text>
<text transform="translate(1551.95 757.68) scale(1 1.085)" fill="#ffffff" stroke="#ffffff">81</text>
<text transform="translate(1591.25 757.68) scale(1 1.085)" fill="#ffffff" stroke="#ffffff">82</text>
<text transform="translate(1630.55 757.68) scale(1 1.085)" fill="#ffffff" stroke="#ffffff">85</text>
<text transform="translate(1276.85 799.64) scale(1 1.085)" fill="#161616" stroke="#161616">40</text>
<text transform="translate(1316.15 799.64) scale(1 1.085)" fill="#161616" stroke="#161616">72</text>
<text transform="translate(1355.45 799.64) scale(1 1.085)" fill="#161616" stroke="#161616">72</text>
<text transform="translate(1394.75 799.64) scale(1 1.085)" fill="#161616" stroke="#161616">71</text>
<text transform="translate(1434.05 799.64) scale(1 1.085)" fill="#161616" stroke="#161616">73</text>
<text transform="translate(1473.35 799.64) scale(1 1.085)" fill="#161616" stroke="#161616">72</text>
<text transform="translate(1512.65 799.64) scale(1 1.085)" fill="#ffffff" stroke="#ffffff">75</text>
<text transform="translate(1551.95 799.64) scale(1 1.085)" fill="#ffffff" stroke="#ffffff">78</text>
<text transform="translate(1591.25 799.64) scale(1 1.085)" fill="#ffffff" stroke="#ffffff">78</text>
<text transform="translate(1630.55 799.64) scale(1 1.085)" fill="#ffffff" stroke="#ffffff">76</text>
<text transform="translate(1669.85 799.64) scale(1 1.085)" fill="#161616" stroke="#161616">75</text>
<text transform="translate(1276.85 841.6) scale(1 1.085)" fill="#161616" stroke="#161616">41</text>
<text transform="translate(1316.15 841.6) scale(1 1.085)" fill="#161616" stroke="#161616">72</text>
<text transform="translate(1355.45 841.6) scale(1 1.085)" fill="#161616" stroke="#161616">71</text>
<text transform="translate(1394.75 841.6) scale(1 1.085)" fill="#161616" stroke="#161616">70</text>
<text transform="translate(1434.05 841.6) scale(1 1.085)" fill="#161616" stroke="#161616">72</text>
<text transform="translate(1473.35 841.6) scale(1 1.085)" fill="#161616" stroke="#161616">71</text>
<text transform="translate(1512.65 841.6) scale(1 1.085)" fill="#ffffff" stroke="#ffffff">75</text>
<text transform="translate(1551.95 841.6) scale(1 1.085)" fill="#ffffff" stroke="#ffffff">77</text>
<text transform="translate(1591.25 841.6) scale(1 1.085)" fill="#ffffff" stroke="#ffffff">78</text>
<text transform="translate(1630.55 841.6) scale(1 1.085)" fill="#ffffff" stroke="#ffffff">75</text>
<text transform="translate(1669.85 841.6) scale(1 1.085)" fill="#161616" stroke="#161616">74</text>
<text transform="translate(1709.15 841.6) scale(1 1.085)" fill="#ffffff" stroke="#ffffff">75</text>
<text transform="translate(1276.85 883.56) scale(1 1.085)" fill="#161616" stroke="#161616">50</text>
<text transform="translate(1316.15 883.56) scale(1 1.085)" fill="#161616" stroke="#161616">63</text>
<text transform="translate(1355.45 883.56) scale(1 1.085)" fill="#161616" stroke="#161616">65</text>
<text transform="translate(1394.75 883.56) scale(1 1.085)" fill="#161616" stroke="#161616">62</text>
<text transform="translate(1434.05 883.56) scale(1 1.085)" fill="#161616" stroke="#161616">64</text>
<text transform="translate(1473.35 883.56) scale(1 1.085)" fill="#161616" stroke="#161616">63</text>
<text transform="translate(1512.65 883.56) scale(1 1.085)" fill="#161616" stroke="#161616">65</text>
<text transform="translate(1551.95 883.56) scale(1 1.085)" fill="#161616" stroke="#161616">66</text>
<text transform="translate(1591.25 883.56) scale(1 1.085)" fill="#161616" stroke="#161616">67</text>
<text transform="translate(1630.55 883.56) scale(1 1.085)" fill="#161616" stroke="#161616">64</text>
<text transform="translate(1669.85 883.56) scale(1 1.085)" fill="#161616" stroke="#161616">64</text>
<text transform="translate(1709.15 883.56) scale(1 1.085)" fill="#161616" stroke="#161616">65</text>
<text transform="translate(1748.45 883.56) scale(1 1.085)" fill="#161616" stroke="#161616">65</text>
<text transform="translate(1276.85 925.52) scale(1 1.085)" fill="#161616" stroke="#161616">53</text>
<text transform="translate(1316.15 925.52) scale(1 1.085)" fill="#161616" stroke="#161616">69</text>
<text transform="translate(1355.45 925.52) scale(1 1.085)" fill="#161616" stroke="#161616">67</text>
<text transform="translate(1394.75 925.52) scale(1 1.085)" fill="#161616" stroke="#161616">66</text>
<text transform="translate(1434.05 925.52) scale(1 1.085)" fill="#161616" stroke="#161616">68</text>
<text transform="translate(1473.35 925.52) scale(1 1.085)" fill="#161616" stroke="#161616">67</text>
<text transform="translate(1512.65 925.52) scale(1 1.085)" fill="#161616" stroke="#161616">66</text>
<text transform="translate(1551.95 925.52) scale(1 1.085)" fill="#161616" stroke="#161616">68</text>
<text transform="translate(1591.25 925.52) scale(1 1.085)" fill="#161616" stroke="#161616">68</text>
<text transform="translate(1630.55 925.52) scale(1 1.085)" fill="#161616" stroke="#161616">66</text>
<text transform="translate(1669.85 925.52) scale(1 1.085)" fill="#161616" stroke="#161616">65</text>
<text transform="translate(1709.15 925.52) scale(1 1.085)" fill="#161616" stroke="#161616">67</text>
<text transform="translate(1748.45 925.52) scale(1 1.085)" fill="#161616" stroke="#161616">67</text>
<text transform="translate(1787.75 925.52) scale(1 1.085)" fill="#161616" stroke="#161616">63</text>
<text transform="translate(1276.85 967.48) scale(1 1.085)" fill="#161616" stroke="#161616">34</text>
<text transform="translate(1316.15 967.48) scale(1 1.085)" fill="#161616" stroke="#161616">63</text>
<text transform="translate(1355.45 967.48) scale(1 1.085)" fill="#161616" stroke="#161616">63</text>
<text transform="translate(1394.75 967.48) scale(1 1.085)" fill="#161616" stroke="#161616">61</text>
<text transform="translate(1434.05 967.48) scale(1 1.085)" fill="#161616" stroke="#161616">63</text>
<text transform="translate(1473.35 967.48) scale(1 1.085)" fill="#161616" stroke="#161616">63</text>
<text transform="translate(1512.65 967.48) scale(1 1.085)" fill="#161616" stroke="#161616">66</text>
<text transform="translate(1551.95 967.48) scale(1 1.085)" fill="#161616" stroke="#161616">67</text>
<text transform="translate(1591.25 967.48) scale(1 1.085)" fill="#161616" stroke="#161616">67</text>
<text transform="translate(1630.55 967.48) scale(1 1.085)" fill="#161616" stroke="#161616">64</text>
<text transform="translate(1669.85 967.48) scale(1 1.085)" fill="#161616" stroke="#161616">64</text>
<text transform="translate(1709.15 967.48) scale(1 1.085)" fill="#161616" stroke="#161616">66</text>
<text transform="translate(1748.45 967.48) scale(1 1.085)" fill="#161616" stroke="#161616">66</text>
<text transform="translate(1787.75 967.48) scale(1 1.085)" fill="#161616" stroke="#161616">55</text>
<text transform="translate(1827.05 967.48) scale(1 1.085)" fill="#161616" stroke="#161616">57</text>
<text transform="translate(1276.85 1009.44) scale(1 1.085)" fill="#161616" stroke="#161616">35</text>
<text transform="translate(1316.15 1009.44) scale(1 1.085)" fill="#161616" stroke="#161616">62</text>
<text transform="translate(1355.45 1009.44) scale(1 1.085)" fill="#161616" stroke="#161616">62</text>
<text transform="translate(1394.75 1009.44) scale(1 1.085)" fill="#161616" stroke="#161616">60</text>
<text transform="translate(1434.05 1009.44) scale(1 1.085)" fill="#161616" stroke="#161616">62</text>
<text transform="translate(1473.35 1009.44) scale(1 1.085)" fill="#161616" stroke="#161616">61</text>
<text transform="translate(1512.65 1009.44) scale(1 1.085)" fill="#161616" stroke="#161616">65</text>
<text transform="translate(1551.95 1009.44) scale(1 1.085)" fill="#161616" stroke="#161616">67</text>
<text transform="translate(1591.25 1009.44) scale(1 1.085)" fill="#161616" stroke="#161616">67</text>
<text transform="translate(1630.55 1009.44) scale(1 1.085)" fill="#161616" stroke="#161616">65</text>
<text transform="translate(1669.85 1009.44) scale(1 1.085)" fill="#161616" stroke="#161616">63</text>
<text transform="translate(1709.15 1009.44) scale(1 1.085)" fill="#161616" stroke="#161616">66</text>
<text transform="translate(1748.45 1009.44) scale(1 1.085)" fill="#161616" stroke="#161616">64</text>
<text transform="translate(1787.75 1009.44) scale(1 1.085)" fill="#161616" stroke="#161616">56</text>
<text transform="translate(1827.05 1009.44) scale(1 1.085)" fill="#161616" stroke="#161616">58</text>
<text transform="translate(1866.35 1009.44) scale(1 1.085)" fill="#161616" stroke="#161616">56</text>
</g>
<g stroke="#000" stroke-width="1.5">
<line x1="1925.3" y1="332.38" x2="1933.2" y2="332.38"/>
<line x1="1276.85" y1="1024.72" x2="1276.85" y2="1033.72"/>
<line x1="1925.3" y1="374.34" x2="1933.2" y2="374.34"/>
<line x1="1316.15" y1="1024.72" x2="1316.15" y2="1033.72"/>
<line x1="1925.3" y1="416.3" x2="1933.2" y2="416.3"/>
<line x1="1355.45" y1="1024.72" x2="1355.45" y2="1033.72"/>
<line x1="1925.3" y1="458.26" x2="1933.2" y2="458.26"/>
<line x1="1394.75" y1="1024.72" x2="1394.75" y2="1033.72"/>
<line x1="1925.3" y1="500.22" x2="1933.2" y2="500.22"/>
<line x1="1434.05" y1="1024.72" x2="1434.05" y2="1033.72"/>
<line x1="1925.3" y1="542.18" x2="1933.2" y2="542.18"/>
<line x1="1473.35" y1="1024.72" x2="1473.35" y2="1033.72"/>
<line x1="1925.3" y1="584.14" x2="1933.2" y2="584.14"/>
<line x1="1512.65" y1="1024.72" x2="1512.65" y2="1033.72"/>
<line x1="1925.3" y1="626.1" x2="1933.2" y2="626.1"/>
<line x1="1551.95" y1="1024.72" x2="1551.95" y2="1033.72"/>
<line x1="1925.3" y1="668.06" x2="1933.2" y2="668.06"/>
<line x1="1591.25" y1="1024.72" x2="1591.25" y2="1033.72"/>
<line x1="1925.3" y1="710.02" x2="1933.2" y2="710.02"/>
<line x1="1630.55" y1="1024.72" x2="1630.55" y2="1033.72"/>
<line x1="1925.3" y1="751.98" x2="1933.2" y2="751.98"/>
<line x1="1669.85" y1="1024.72" x2="1669.85" y2="1033.72"/>
<line x1="1925.3" y1="793.94" x2="1933.2" y2="793.94"/>
<line x1="1709.15" y1="1024.72" x2="1709.15" y2="1033.72"/>
<line x1="1925.3" y1="835.9" x2="1933.2" y2="835.9"/>
<line x1="1748.45" y1="1024.72" x2="1748.45" y2="1033.72"/>
<line x1="1925.3" y1="877.86" x2="1933.2" y2="877.86"/>
<line x1="1787.75" y1="1024.72" x2="1787.75" y2="1033.72"/>
<line x1="1925.3" y1="919.82" x2="1933.2" y2="919.82"/>
<line x1="1827.05" y1="1024.72" x2="1827.05" y2="1033.72"/>
<line x1="1925.3" y1="961.78" x2="1933.2" y2="961.78"/>
<line x1="1866.35" y1="1024.72" x2="1866.35" y2="1033.72"/>
<line x1="1925.3" y1="1003.74" x2="1933.2" y2="1003.74"/>
<line x1="1905.65" y1="1024.72" x2="1905.65" y2="1033.72"/>
</g>
<g font-family='"Liberation Sans", sans-serif' font-size="17.2" stroke-width="0.12">
<text transform="translate(1938.3 338.93) scale(1 1.055)" fill="#008000" stroke="#008000">Dcoc</text>
<text transform="translate(1938.3 380.89) scale(1 1.055)" fill="#0000ff" stroke="#0000ff">Dana</text>
<text transform="translate(1938.3 422.85) scale(1 1.055)" fill="#0000ff" stroke="#0000ff">Dsuz</text>
<text transform="translate(1938.3 464.81) scale(1 1.055)" fill="#0000ff" stroke="#0000ff">Dmel</text>
<text transform="translate(1938.3 506.77) scale(1 1.055)" fill="#0000ff" stroke="#0000ff">Dmau</text>
<text transform="translate(1938.3 548.73) scale(1 1.055)" fill="#0000ff" stroke="#0000ff">Dsim</text>
<text transform="translate(1938.3 590.69) scale(1 1.055)" fill="#808000" stroke="#808000">Dall</text>
<text transform="translate(1938.3 632.65) scale(1 1.055)" fill="#808000" stroke="#808000">Cflo</text>
<text transform="translate(1938.3 674.61) scale(1 1.055)" fill="#808000" stroke="#808000">Cobs</text>
<text transform="translate(1938.3 716.57) scale(1 1.055)" fill="#808000" stroke="#808000">Dnov</text>
<text transform="translate(1938.3 758.53) scale(1 1.055)" fill="#808000" stroke="#808000">Lalb</text>
<text transform="translate(1938.3 800.49) scale(1 1.055)" fill="#ff0000" stroke="#ff0000">Dvir</text>
<text transform="translate(1938.3 842.45) scale(1 1.055)" fill="#008000" stroke="#008000">Hvit</text>
<text transform="translate(1938.3 884.41) scale(1 1.055)" fill="#0000ff" stroke="#0000ff">Aalb</text>
<text transform="translate(1938.3 926.37) scale(1 1.055)" fill="#0000ff" stroke="#0000ff">Ltri</text>
<text transform="translate(1938.3 968.33) scale(1 1.055)" fill="#008000" stroke="#008000">Dcit</text>
<text transform="translate(1938.3 1010.29) scale(1 1.055)" fill="#800080" stroke="#800080">Turt</text>
<text transform="translate(1281.25 1038.5) rotate(-90) scale(1 1.055)" text-anchor="end" fill="#008000" stroke="#008000">Dcoc</text>
<text transform="translate(1320.55 1038.5) rotate(-90) scale(1 1.055)" text-anchor="end" fill="#0000ff" stroke="#0000ff">Dana</text>
<text transform="translate(1359.85 1038.5) rotate(-90) scale(1 1.055)" text-anchor="end" fill="#0000ff" stroke="#0000ff">Dsuz</text>
<text transform="translate(1399.15 1038.5) rotate(-90) scale(1 1.055)" text-anchor="end" fill="#0000ff" stroke="#0000ff">Dmel</text>
<text transform="translate(1438.45 1038.5) rotate(-90) scale(1 1.055)" text-anchor="end" fill="#0000ff" stroke="#0000ff">Dmau</text>
<text transform="translate(1477.75 1038.5) rotate(-90) scale(1 1.055)" text-anchor="end" fill="#0000ff" stroke="#0000ff">Dsim</text>
<text transform="translate(1517.05 1038.5) rotate(-90) scale(1 1.055)" text-anchor="end" fill="#808000" stroke="#808000">Dall</text>
<text transform="translate(1556.35 1038.5) rotate(-90) scale(1 1.055)" text-anchor="end" fill="#808000" stroke="#808000">Cflo</text>
<text transform="translate(1595.65 1038.5) rotate(-90) scale(1 1.055)" text-anchor="end" fill="#808000" stroke="#808000">Cobs</text>
<text transform="translate(1634.95 1038.5) rotate(-90) scale(1 1.055)" text-anchor="end" fill="#808000" stroke="#808000">Dnov</text>
<text transform="translate(1674.25 1038.5) rotate(-90) scale(1 1.055)" text-anchor="end" fill="#808000" stroke="#808000">Lalb</text>
<text transform="translate(1713.55 1038.5) rotate(-90) scale(1 1.055)" text-anchor="end" fill="#ff0000" stroke="#ff0000">Dvir</text>
<text transform="translate(1752.85 1038.5) rotate(-90) scale(1 1.055)" text-anchor="end" fill="#008000" stroke="#008000">Hvit</text>
<text transform="translate(1792.15 1038.5) rotate(-90) scale(1 1.055)" text-anchor="end" fill="#0000ff" stroke="#0000ff">Aalb</text>
<text transform="translate(1831.45 1038.5) rotate(-90) scale(1 1.055)" text-anchor="end" fill="#0000ff" stroke="#0000ff">Ltri</text>
<text transform="translate(1870.75 1038.5) rotate(-90) scale(1 1.055)" text-anchor="end" fill="#008000" stroke="#008000">Dcit</text>
<text transform="translate(1910.05 1038.5) rotate(-90) scale(1 1.055)" text-anchor="end" fill="#800080" stroke="#800080">Turt</text>
</g>
<text transform="translate(1034 671.3) rotate(-90)" text-anchor="middle" font-size="20.4" font-family='"Liberation Sans", sans-serif' fill="#000">wolb</text>
<text transform="translate(2004.4 668.3) rotate(-90)" text-anchor="middle" font-size="19" font-family='"Liberation Sans", sans-serif' fill="#000">hosts</text>
<rect x="1512.2" y="80.6" width="214.3" height="106.7" rx="3.2" ry="3.2" fill="#fff" fill-opacity="0.8" stroke="#d0d0d0" stroke-width="1.7"/>
<text transform="translate(1519.5 104) scale(1 1.06)" font-size="19" fill="#000" stroke="#000" stroke-width="0.18" font-family='"Liberation Sans", sans-serif'><tspan font-family='"DejaVu Sans", sans-serif' font-style="italic">Wolbachia</tspan> supergroup</text>
<rect x="1565" y="116.1" width="34" height="10.9" fill="#ffa500"/>
<text transform="translate(1613.6 128.28) scale(1 1.06)" font-size="17.4" fill="#000" stroke="#000" stroke-width="0.18" font-family='"Liberation Sans", sans-serif'>A</text>
<rect x="1565" y="140.9" width="34" height="10.9" fill="#4b0082"/>
<text transform="translate(1613.6 153.08) scale(1 1.06)" font-size="17.4" fill="#000" stroke="#000" stroke-width="0.18" font-family='"Liberation Sans", sans-serif'>B</text>
<rect x="1565" y="165.7" width="34" height="10.9" fill="#4169e1"/>
<text transform="translate(1613.6 177.88) scale(1 1.06)" font-size="17.4" fill="#000" stroke="#000" stroke-width="0.18" font-family='"Liberation Sans", sans-serif'>A and B</text>
<rect x="1770.5" y="81.2" width="214.2" height="157.2" rx="3.2" ry="3.2" fill="#fff" fill-opacity="0.8" stroke="#d0d0d0" stroke-width="1.7"/>
<text transform="translate(1779.5 104.1) scale(1 1.06)" font-size="20.6" fill="#000" stroke="#000" stroke-width="0.18" font-family='"Liberation Sans", sans-serif'>Host order</text>
<rect x="1823" y="116.2" width="33.6" height="10.9" fill="#ff0000"/>
<text transform="translate(1871.6 125.87) scale(1 1.06)" font-size="12.9" fill="#000" stroke="#000" stroke-width="0.18" font-family='"Liberation Sans", sans-serif'>Coleoptera</text>
<rect x="1823" y="140.92" width="33.6" height="10.9" fill="#0000ff"/>
<text transform="translate(1871.6 150.29) scale(1 1.06)" font-size="12.9" fill="#000" stroke="#000" stroke-width="0.18" font-family='"Liberation Sans", sans-serif'>Diptera</text>
<rect x="1823" y="165.64" width="33.6" height="10.9" fill="#008000"/>
<text transform="translate(1871.6 174.41) scale(1 1.06)" font-size="12.9" fill="#000" stroke="#000" stroke-width="0.18" font-family='"Liberation Sans", sans-serif'>Hemiptera</text>
<rect x="1823" y="190.36" width="33.6" height="10.9" fill="#808000"/>
<text transform="translate(1871.6 200.33) scale(1 1.06)" font-size="12.9" fill="#000" stroke="#000" stroke-width="0.18" font-family='"Liberation Sans", sans-serif'>Hymenoptera</text>
<rect x="1823" y="215.08" width="33.6" height="10.9" fill="#800080"/>
<text transform="translate(1871.6 224.85) scale(1 1.06)" font-size="12.9" fill="#000" stroke="#000" stroke-width="0.18" font-family='"Liberation Sans", sans-serif'>Trombidiformes</text>
</svg>
</body>
</html>
